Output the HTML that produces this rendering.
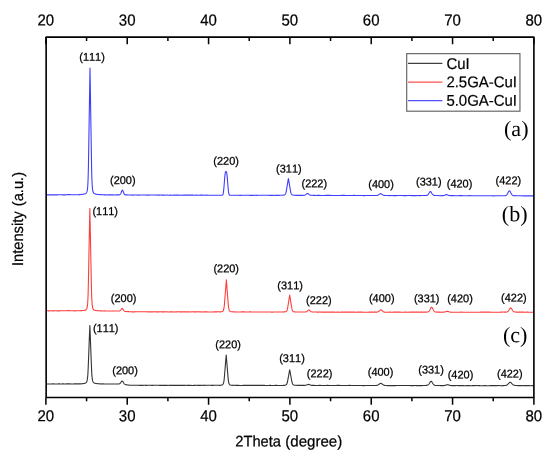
<!DOCTYPE html>
<html><head><meta charset="utf-8"><title>XRD</title>
<style>
html,body{margin:0;padding:0;background:#fff;}
body{width:550px;height:458px;overflow:hidden;}
svg{display:block;will-change:transform;}
text{font-family:"Liberation Sans",sans-serif;fill:#000;font-kerning:none;}
.tk{font-size:15.0px;text-anchor:middle;stroke:#000;stroke-width:0.22px;}
.tt{font-size:14.9px;text-anchor:middle;stroke:#000;stroke-width:0.22px;}
.pk{font-size:10.95px;text-anchor:middle;stroke:#000;stroke-width:0.25px;}
.lg{font-size:14.95px;stroke:#000;stroke-width:0.2px;}
.pn{font-family:"Liberation Serif",serif;font-size:22.1px;text-anchor:middle;}
</style></head><body>
<svg width="550" height="458" viewBox="0 0 550 458">
<rect x="0" y="0" width="550" height="458" fill="#ffffff"/>
<path d="M46.15 383.96 L46.40 383.96 L46.65 383.96 L46.90 383.96 L47.15 383.96 L47.40 383.96 L47.65 383.96 L47.90 383.96 L48.15 383.93 L48.40 383.93 L48.65 383.93 L48.90 383.93 L49.15 383.93 L49.40 383.93 L49.65 383.93 L49.90 383.93 L50.15 384.01 L50.40 384.01 L50.65 384.01 L50.90 384.01 L51.15 384.01 L51.40 384.01 L51.65 384.01 L51.90 384.01 L52.15 383.92 L52.40 383.92 L52.65 383.92 L52.90 383.92 L53.15 383.92 L53.40 383.92 L53.65 383.92 L53.90 383.92 L54.15 384.00 L54.40 384.00 L54.65 384.00 L54.90 384.00 L55.15 384.00 L55.40 384.00 L55.65 384.00 L55.90 384.00 L56.15 383.97 L56.40 383.97 L56.65 383.97 L56.90 383.97 L57.15 383.97 L57.40 383.97 L57.65 383.97 L57.90 383.97 L58.15 383.92 L58.40 383.92 L58.65 383.92 L58.90 383.92 L59.15 383.92 L59.40 383.92 L59.65 383.92 L59.90 383.92 L60.15 383.99 L60.40 383.99 L60.65 383.99 L60.90 383.99 L61.15 383.99 L61.40 383.99 L61.65 383.99 L61.90 383.99 L62.15 383.91 L62.40 383.91 L62.65 383.91 L62.90 383.91 L63.15 383.91 L63.40 383.91 L63.65 383.91 L63.90 383.91 L64.15 383.97 L64.40 383.97 L64.65 383.97 L64.90 383.97 L65.15 383.97 L65.40 383.97 L65.65 383.97 L65.90 383.96 L66.15 383.90 L66.40 383.90 L66.65 383.89 L66.90 383.88 L67.15 383.87 L67.40 383.86 L67.65 383.85 L67.90 383.84 L68.15 383.84 L68.40 383.83 L68.65 383.83 L68.70 383.83 L68.90 383.83 L69.15 383.83 L69.40 383.84 L69.65 383.85 L69.90 383.91 L70.15 383.92 L70.40 383.92 L70.65 383.93 L70.90 383.93 L71.15 383.94 L71.40 383.94 L71.65 383.94 L71.90 384.01 L72.15 384.01 L72.40 384.01 L72.65 384.00 L72.90 384.00 L73.15 384.00 L73.40 384.00 L73.65 384.00 L73.90 383.88 L74.15 383.88 L74.40 383.88 L74.65 383.87 L74.90 383.87 L75.15 383.87 L75.40 383.87 L75.65 383.86 L75.90 383.87 L76.15 383.87 L76.40 383.87 L76.65 383.86 L76.90 383.86 L77.15 383.85 L77.40 383.85 L77.65 383.84 L77.90 383.90 L78.15 383.89 L78.40 383.89 L78.65 383.88 L78.90 383.87 L79.15 383.87 L79.40 383.86 L79.65 383.85 L79.90 383.89 L80.15 383.88 L80.40 383.87 L80.65 383.86 L80.90 383.84 L81.15 383.83 L81.40 383.81 L81.65 383.80 L81.90 383.72 L82.15 383.70 L82.40 383.68 L82.65 383.66 L82.90 383.63 L83.15 383.61 L83.40 383.58 L83.65 383.54 L83.90 383.48 L84.15 383.43 L84.40 383.38 L84.65 383.33 L84.90 383.26 L85.15 383.18 L85.40 383.08 L85.65 382.95 L85.90 382.88 L86.15 382.66 L86.40 382.35 L86.65 381.92 L86.90 381.29 L87.15 380.38 L87.40 379.01 L87.65 376.96 L87.90 373.70 L88.15 368.67 L88.40 362.52 L88.65 356.23 L88.90 349.79 L89.15 343.20 L89.40 336.59 L89.65 330.22 L89.85 325.64 L89.90 326.78 L90.15 332.85 L90.40 339.35 L90.65 345.98 L90.90 352.52 L91.15 358.90 L91.40 365.13 L91.65 371.14 L91.90 375.15 L92.15 377.78 L92.40 379.52 L92.65 380.68 L92.90 381.47 L93.15 382.01 L93.40 382.38 L93.65 382.63 L93.90 382.83 L94.15 382.98 L94.40 383.09 L94.65 383.19 L94.90 383.26 L95.15 383.32 L95.40 383.38 L95.65 383.42 L95.90 383.46 L96.15 383.50 L96.40 383.53 L96.65 383.56 L96.90 383.59 L97.15 383.61 L97.40 383.64 L97.65 383.69 L97.90 383.71 L98.15 383.72 L98.40 383.74 L98.65 383.75 L98.90 383.77 L99.15 383.78 L99.40 383.79 L99.65 383.89 L99.90 383.90 L100.15 383.91 L100.40 383.92 L100.65 383.93 L100.90 383.93 L101.15 383.94 L101.40 383.95 L101.65 383.86 L101.90 383.86 L102.15 383.87 L102.40 383.87 L102.65 383.88 L102.90 383.88 L103.15 383.89 L103.40 383.89 L103.65 383.96 L103.90 383.97 L104.15 383.97 L104.40 383.98 L104.65 383.98 L104.90 383.98 L105.15 383.99 L105.40 383.99 L105.65 384.00 L105.90 384.01 L106.15 384.01 L106.40 384.01 L106.65 384.01 L106.90 384.02 L107.15 384.02 L107.40 384.02 L107.65 383.98 L107.90 383.98 L108.15 383.98 L108.40 383.99 L108.65 383.99 L108.90 383.99 L109.15 383.99 L109.40 383.99 L109.65 384.02 L109.90 384.02 L110.15 384.02 L110.40 384.03 L110.65 384.03 L110.90 384.03 L111.15 384.03 L111.40 384.03 L111.65 383.95 L111.90 383.95 L112.15 383.95 L112.40 383.95 L112.65 383.95 L112.90 383.96 L113.15 383.96 L113.40 383.96 L113.65 383.95 L113.90 383.95 L114.15 383.95 L114.40 383.95 L114.65 383.95 L114.90 383.95 L115.15 383.95 L115.40 383.95 L115.65 383.97 L115.90 383.97 L116.15 383.97 L116.40 383.96 L116.65 383.96 L116.90 383.95 L117.15 383.95 L117.40 383.94 L117.65 384.01 L117.90 384.00 L118.15 383.99 L118.40 384.00 L118.65 383.98 L118.90 383.96 L119.15 383.91 L119.40 383.83 L119.65 383.67 L119.90 383.50 L120.15 383.29 L120.40 383.02 L120.65 382.71 L120.90 382.37 L121.15 382.01 L121.40 381.67 L121.65 381.37 L121.90 381.17 L122.15 381.09 L122.20 381.10 L122.40 381.16 L122.65 381.36 L122.90 381.67 L123.15 382.05 L123.40 382.50 L123.65 382.90 L123.90 383.28 L124.15 383.61 L124.40 383.90 L124.65 384.13 L124.90 384.32 L125.15 384.46 L125.40 384.55 L125.65 384.64 L125.90 384.71 L126.15 384.76 L126.40 384.81 L126.65 384.85 L126.90 384.88 L127.15 384.92 L127.40 384.92 L127.65 384.96 L127.90 384.99 L128.15 385.02 L128.40 385.04 L128.65 385.07 L128.90 385.10 L129.15 385.13 L129.40 385.24 L129.65 385.26 L129.90 385.29 L130.15 385.30 L130.40 385.30 L130.65 385.31 L130.90 385.31 L131.15 385.31 L131.40 385.30 L131.65 385.30 L131.90 385.30 L132.15 385.30 L132.40 385.30 L132.65 385.30 L132.90 385.30 L133.15 385.31 L133.40 385.23 L133.65 385.23 L133.90 385.24 L134.15 385.24 L134.40 385.24 L134.65 385.24 L134.90 385.24 L135.15 385.24 L135.40 385.29 L135.65 385.29 L135.90 385.29 L136.15 385.30 L136.40 385.30 L136.65 385.30 L136.90 385.30 L137.15 385.30 L137.40 385.29 L137.65 385.29 L137.90 385.29 L138.15 385.29 L138.40 385.29 L138.65 385.29 L138.90 385.29 L139.15 385.29 L139.40 385.35 L139.65 385.35 L139.90 385.35 L140.15 385.35 L140.40 385.35 L140.65 385.35 L140.90 385.35 L141.15 385.35 L141.40 385.33 L141.65 385.33 L141.90 385.33 L142.15 385.33 L142.40 385.33 L142.65 385.33 L142.90 385.33 L143.15 385.33 L143.40 385.26 L143.65 385.26 L143.90 385.27 L144.15 385.27 L144.40 385.27 L144.65 385.27 L144.90 385.27 L145.15 385.27 L145.40 385.38 L145.65 385.38 L145.90 385.38 L146.15 385.38 L146.40 385.38 L146.65 385.38 L146.90 385.38 L147.15 385.38 L147.40 385.24 L147.65 385.24 L147.90 385.24 L148.15 385.24 L148.40 385.24 L148.65 385.24 L148.90 385.24 L149.15 385.25 L149.40 385.29 L149.65 385.29 L149.90 385.29 L150.15 385.29 L150.40 385.29 L150.65 385.30 L150.90 385.30 L151.15 385.30 L151.40 385.35 L151.65 385.35 L151.90 385.35 L152.15 385.35 L152.40 385.35 L152.65 385.35 L152.90 385.35 L153.15 385.35 L153.40 385.26 L153.65 385.26 L153.90 385.26 L154.15 385.26 L154.40 385.26 L154.65 385.26 L154.90 385.26 L155.15 385.26 L155.40 385.31 L155.65 385.31 L155.90 385.31 L156.15 385.31 L156.40 385.31 L156.65 385.31 L156.90 385.31 L157.15 385.31 L157.40 385.24 L157.65 385.24 L157.90 385.24 L158.15 385.24 L158.40 385.24 L158.65 385.24 L158.90 385.24 L159.15 385.24 L159.40 385.35 L159.65 385.35 L159.90 385.35 L160.15 385.35 L160.40 385.35 L160.65 385.35 L160.90 385.35 L161.15 385.35 L161.40 385.36 L161.65 385.36 L161.90 385.36 L162.15 385.36 L162.40 385.36 L162.65 385.36 L162.90 385.36 L163.15 385.36 L163.40 385.33 L163.65 385.33 L163.90 385.33 L164.15 385.33 L164.40 385.34 L164.65 385.34 L164.90 385.34 L165.15 385.34 L165.40 385.38 L165.65 385.38 L165.90 385.39 L166.15 385.39 L166.40 385.39 L166.65 385.39 L166.90 385.39 L167.15 385.39 L167.40 385.30 L167.65 385.30 L167.90 385.30 L168.15 385.30 L168.40 385.30 L168.65 385.30 L168.90 385.30 L169.15 385.30 L169.40 385.36 L169.65 385.36 L169.90 385.36 L170.15 385.36 L170.40 385.36 L170.65 385.36 L170.90 385.36 L171.15 385.36 L171.40 385.35 L171.65 385.35 L171.90 385.35 L172.15 385.35 L172.40 385.35 L172.65 385.35 L172.90 385.35 L173.15 385.35 L173.40 385.35 L173.65 385.35 L173.90 385.35 L174.15 385.35 L174.40 385.35 L174.65 385.35 L174.90 385.35 L175.15 385.35 L175.40 385.33 L175.65 385.33 L175.90 385.33 L176.15 385.33 L176.40 385.33 L176.65 385.33 L176.90 385.33 L177.15 385.33 L177.40 385.39 L177.65 385.39 L177.90 385.39 L178.15 385.39 L178.40 385.39 L178.65 385.39 L178.90 385.39 L179.15 385.39 L179.40 385.41 L179.65 385.41 L179.90 385.41 L180.15 385.41 L180.40 385.41 L180.65 385.41 L180.90 385.41 L181.15 385.41 L181.40 385.34 L181.65 385.34 L181.90 385.34 L182.15 385.34 L182.40 385.34 L182.65 385.34 L182.90 385.34 L183.15 385.34 L183.40 385.37 L183.65 385.37 L183.90 385.37 L184.15 385.37 L184.40 385.37 L184.65 385.37 L184.90 385.37 L185.15 385.37 L185.40 385.27 L185.65 385.27 L185.90 385.27 L186.15 385.27 L186.40 385.27 L186.65 385.27 L186.90 385.27 L187.15 385.27 L187.40 385.38 L187.65 385.38 L187.90 385.38 L188.15 385.38 L188.40 385.38 L188.65 385.38 L188.90 385.38 L189.15 385.38 L189.40 385.37 L189.65 385.37 L189.90 385.37 L190.15 385.37 L190.40 385.37 L190.65 385.37 L190.90 385.37 L191.15 385.37 L191.40 385.43 L191.65 385.43 L191.90 385.43 L192.15 385.43 L192.40 385.43 L192.65 385.43 L192.90 385.43 L193.15 385.43 L193.40 385.40 L193.65 385.40 L193.90 385.40 L194.15 385.40 L194.40 385.40 L194.65 385.40 L194.90 385.40 L195.15 385.40 L195.40 385.32 L195.65 385.32 L195.90 385.32 L196.15 385.32 L196.40 385.32 L196.65 385.32 L196.90 385.32 L197.15 385.32 L197.40 385.33 L197.65 385.33 L197.90 385.33 L198.15 385.33 L198.40 385.33 L198.65 385.33 L198.90 385.33 L199.15 385.33 L199.40 385.38 L199.65 385.38 L199.90 385.38 L200.15 385.38 L200.40 385.38 L200.65 385.38 L200.90 385.38 L201.15 385.38 L201.40 385.28 L201.65 385.28 L201.90 385.28 L202.15 385.28 L202.40 385.28 L202.65 385.28 L202.90 385.28 L203.15 385.28 L203.40 385.35 L203.65 385.35 L203.90 385.35 L204.15 385.35 L204.40 385.35 L204.65 385.35 L204.90 385.35 L205.15 385.35 L205.40 385.30 L205.65 385.30 L205.90 385.30 L206.15 385.30 L206.40 385.30 L206.65 385.30 L206.90 385.30 L207.15 385.30 L207.40 385.29 L207.65 385.29 L207.90 385.29 L208.15 385.29 L208.40 385.29 L208.65 385.29 L208.90 385.29 L209.15 385.29 L209.40 385.28 L209.65 385.28 L209.90 385.28 L210.15 385.28 L210.40 385.28 L210.65 385.28 L210.90 385.28 L211.15 385.28 L211.40 385.39 L211.65 385.39 L211.90 385.39 L212.15 385.39 L212.40 385.39 L212.65 385.39 L212.90 385.39 L213.15 385.39 L213.40 385.29 L213.65 385.29 L213.90 385.29 L214.15 385.29 L214.40 385.29 L214.65 385.28 L214.90 385.28 L215.15 385.28 L215.40 385.30 L215.65 385.30 L215.90 385.30 L216.15 385.30 L216.40 385.29 L216.65 385.29 L216.90 385.29 L217.15 385.29 L217.40 385.31 L217.65 385.31 L217.90 385.30 L218.15 385.30 L218.40 385.30 L218.65 385.29 L218.90 385.29 L219.15 385.28 L219.40 385.35 L219.65 385.35 L219.90 385.34 L220.15 385.33 L220.40 385.32 L220.65 385.30 L220.90 385.28 L221.15 385.25 L221.40 385.09 L221.65 385.05 L221.90 384.98 L222.15 384.89 L222.40 384.76 L222.65 384.58 L222.90 384.31 L223.15 383.92 L223.40 383.41 L223.65 382.58 L223.90 381.36 L224.15 379.55 L224.40 376.75 L224.65 373.79 L224.90 370.79 L225.15 367.73 L225.40 364.66 L225.65 361.55 L225.90 358.49 L226.15 355.57 L226.20 355.01 L226.40 357.30 L226.65 360.32 L226.90 363.41 L227.15 366.57 L227.40 369.64 L227.65 372.67 L227.90 375.65 L228.15 378.59 L228.40 380.79 L228.65 382.22 L228.90 383.19 L229.15 383.84 L229.40 384.29 L229.65 384.61 L229.90 384.82 L230.15 384.97 L230.40 385.07 L230.65 385.15 L230.90 385.20 L231.15 385.25 L231.40 385.28 L231.65 385.30 L231.90 385.32 L232.15 385.33 L232.40 385.34 L232.65 385.35 L232.90 385.36 L233.15 385.27 L233.40 385.28 L233.65 385.29 L233.90 385.29 L234.15 385.29 L234.40 385.30 L234.65 385.30 L234.90 385.31 L235.15 385.33 L235.40 385.33 L235.65 385.34 L235.90 385.34 L236.15 385.34 L236.40 385.34 L236.65 385.34 L236.90 385.35 L237.15 385.34 L237.40 385.34 L237.65 385.34 L237.90 385.34 L238.15 385.34 L238.40 385.35 L238.65 385.35 L238.90 385.35 L239.15 385.43 L239.40 385.43 L239.65 385.43 L239.90 385.44 L240.15 385.44 L240.40 385.44 L240.65 385.44 L240.90 385.44 L241.15 385.45 L241.40 385.45 L241.65 385.45 L241.90 385.45 L242.15 385.45 L242.40 385.46 L242.65 385.46 L242.90 385.46 L243.15 385.33 L243.40 385.33 L243.65 385.33 L243.90 385.33 L244.15 385.33 L244.40 385.33 L244.65 385.33 L244.90 385.33 L245.15 385.34 L245.40 385.34 L245.65 385.34 L245.90 385.34 L246.15 385.34 L246.40 385.34 L246.65 385.34 L246.90 385.34 L247.15 385.35 L247.40 385.35 L247.65 385.35 L247.90 385.35 L248.15 385.35 L248.40 385.35 L248.65 385.35 L248.90 385.35 L249.15 385.35 L249.40 385.35 L249.65 385.35 L249.90 385.35 L250.15 385.35 L250.40 385.35 L250.65 385.35 L250.90 385.35 L251.15 385.40 L251.40 385.40 L251.65 385.40 L251.90 385.40 L252.15 385.40 L252.40 385.40 L252.65 385.40 L252.90 385.40 L253.15 385.41 L253.40 385.41 L253.65 385.41 L253.90 385.42 L254.15 385.42 L254.40 385.42 L254.65 385.42 L254.90 385.42 L255.15 385.36 L255.40 385.36 L255.65 385.36 L255.90 385.37 L256.15 385.37 L256.40 385.37 L256.65 385.37 L256.90 385.37 L257.15 385.32 L257.40 385.33 L257.65 385.33 L257.90 385.33 L258.15 385.33 L258.40 385.33 L258.65 385.33 L258.90 385.33 L259.15 385.39 L259.40 385.39 L259.65 385.39 L259.90 385.39 L260.15 385.39 L260.40 385.39 L260.65 385.39 L260.90 385.39 L261.15 385.39 L261.40 385.39 L261.65 385.39 L261.90 385.39 L262.15 385.39 L262.40 385.39 L262.65 385.39 L262.90 385.39 L263.15 385.42 L263.40 385.42 L263.65 385.42 L263.90 385.42 L264.15 385.42 L264.40 385.42 L264.65 385.42 L264.90 385.42 L265.15 385.48 L265.40 385.48 L265.65 385.48 L265.90 385.48 L266.15 385.48 L266.40 385.48 L266.65 385.48 L266.90 385.48 L267.15 385.44 L267.40 385.44 L267.65 385.44 L267.90 385.44 L268.15 385.44 L268.40 385.44 L268.65 385.44 L268.90 385.44 L269.15 385.42 L269.40 385.42 L269.65 385.42 L269.90 385.42 L270.15 385.42 L270.40 385.42 L270.65 385.42 L270.90 385.42 L271.15 385.43 L271.40 385.43 L271.65 385.43 L271.90 385.43 L272.15 385.43 L272.40 385.43 L272.65 385.43 L272.90 385.43 L273.15 385.44 L273.40 385.44 L273.65 385.44 L273.90 385.44 L274.15 385.44 L274.40 385.44 L274.65 385.44 L274.90 385.44 L275.15 385.34 L275.40 385.34 L275.65 385.34 L275.90 385.34 L276.15 385.34 L276.40 385.34 L276.65 385.34 L276.90 385.34 L277.15 385.47 L277.40 385.47 L277.65 385.47 L277.90 385.47 L278.15 385.47 L278.40 385.47 L278.65 385.47 L278.90 385.47 L279.15 385.45 L279.40 385.45 L279.65 385.45 L279.90 385.45 L280.15 385.45 L280.40 385.44 L280.65 385.44 L280.90 385.44 L281.15 385.45 L281.40 385.45 L281.65 385.45 L281.90 385.45 L282.15 385.44 L282.40 385.44 L282.65 385.44 L282.90 385.43 L283.15 385.41 L283.40 385.41 L283.65 385.40 L283.90 385.38 L284.15 385.37 L284.40 385.35 L284.65 385.32 L284.90 385.28 L285.15 385.17 L285.40 385.10 L285.65 385.01 L285.90 384.89 L286.15 384.72 L286.40 384.48 L286.65 384.14 L286.90 383.68 L287.15 383.03 L287.40 382.11 L287.65 380.81 L287.90 379.51 L288.15 378.18 L288.40 376.84 L288.65 375.48 L288.90 374.11 L289.15 372.70 L289.40 371.36 L289.65 370.08 L289.70 369.83 L289.90 370.84 L290.15 372.16 L290.40 373.52 L290.65 374.89 L290.90 376.34 L291.15 377.69 L291.40 379.02 L291.65 380.33 L291.90 381.63 L292.15 382.75 L292.40 383.49 L292.65 384.02 L292.90 384.31 L293.15 384.58 L293.40 384.78 L293.65 384.92 L293.90 385.02 L294.15 385.10 L294.40 385.16 L294.65 385.20 L294.90 385.23 L295.15 385.25 L295.40 385.27 L295.65 385.28 L295.90 385.29 L296.15 385.30 L296.40 385.31 L296.65 385.32 L296.90 385.34 L297.15 385.35 L297.40 385.35 L297.65 385.35 L297.90 385.36 L298.15 385.36 L298.40 385.36 L298.65 385.36 L298.90 385.36 L299.15 385.36 L299.40 385.36 L299.65 385.36 L299.90 385.36 L300.15 385.36 L300.40 385.37 L300.65 385.37 L300.90 385.40 L301.15 385.40 L301.40 385.40 L301.65 385.40 L301.90 385.40 L302.15 385.40 L302.40 385.40 L302.65 385.40 L302.90 385.35 L303.15 385.35 L303.40 385.35 L303.65 385.35 L303.90 385.35 L304.15 385.34 L304.40 385.34 L304.65 385.34 L304.90 385.32 L305.15 385.30 L305.40 385.28 L305.65 385.25 L305.90 385.21 L306.15 385.16 L306.40 385.09 L306.65 385.01 L306.90 384.93 L307.15 384.82 L307.40 384.70 L307.65 384.59 L307.90 384.50 L308.15 384.42 L308.40 384.39 L308.50 384.39 L308.65 384.38 L308.90 384.43 L309.15 384.51 L309.40 384.61 L309.65 384.72 L309.90 384.84 L310.15 384.95 L310.40 385.05 L310.65 385.17 L310.90 385.24 L311.15 385.29 L311.40 385.33 L311.65 385.36 L311.90 385.38 L312.15 385.39 L312.40 385.40 L312.65 385.35 L312.90 385.36 L313.15 385.36 L313.40 385.36 L313.65 385.37 L313.90 385.37 L314.15 385.37 L314.40 385.37 L314.65 385.51 L314.90 385.51 L315.15 385.51 L315.40 385.51 L315.65 385.51 L315.90 385.51 L316.15 385.51 L316.40 385.51 L316.65 385.47 L316.90 385.47 L317.15 385.48 L317.40 385.48 L317.65 385.48 L317.90 385.48 L318.15 385.48 L318.40 385.48 L318.65 385.40 L318.90 385.41 L319.15 385.41 L319.40 385.41 L319.65 385.41 L319.90 385.41 L320.15 385.41 L320.40 385.41 L320.65 385.42 L320.90 385.43 L321.15 385.43 L321.40 385.43 L321.65 385.43 L321.90 385.43 L322.15 385.43 L322.40 385.43 L322.65 385.44 L322.90 385.44 L323.15 385.44 L323.40 385.44 L323.65 385.44 L323.90 385.45 L324.15 385.45 L324.40 385.45 L324.65 385.45 L324.90 385.45 L325.15 385.45 L325.40 385.45 L325.65 385.45 L325.90 385.45 L326.15 385.45 L326.40 385.45 L326.65 385.41 L326.90 385.41 L327.15 385.41 L327.40 385.41 L327.65 385.41 L327.90 385.41 L328.15 385.41 L328.40 385.42 L328.65 385.53 L328.90 385.53 L329.15 385.53 L329.40 385.53 L329.65 385.53 L329.90 385.53 L330.15 385.53 L330.40 385.53 L330.65 385.56 L330.90 385.56 L331.15 385.56 L331.40 385.56 L331.65 385.56 L331.90 385.56 L332.15 385.56 L332.40 385.56 L332.65 385.48 L332.90 385.48 L333.15 385.48 L333.40 385.48 L333.65 385.48 L333.90 385.48 L334.15 385.48 L334.40 385.48 L334.65 385.48 L334.90 385.48 L335.15 385.48 L335.40 385.48 L335.65 385.48 L335.90 385.48 L336.15 385.48 L336.40 385.48 L336.65 385.42 L336.90 385.42 L337.15 385.42 L337.40 385.42 L337.65 385.42 L337.90 385.42 L338.15 385.42 L338.40 385.42 L338.65 385.42 L338.90 385.42 L339.15 385.42 L339.40 385.42 L339.65 385.42 L339.90 385.43 L340.15 385.43 L340.40 385.43 L340.65 385.46 L340.90 385.46 L341.15 385.47 L341.40 385.47 L341.65 385.47 L341.90 385.47 L342.15 385.47 L342.40 385.47 L342.65 385.45 L342.90 385.45 L343.15 385.45 L343.40 385.46 L343.65 385.46 L343.90 385.46 L344.15 385.46 L344.40 385.46 L344.65 385.55 L344.90 385.55 L345.15 385.55 L345.40 385.55 L345.65 385.55 L345.90 385.55 L346.15 385.55 L346.40 385.55 L346.65 385.44 L346.90 385.44 L347.15 385.44 L347.40 385.44 L347.65 385.44 L347.90 385.44 L348.15 385.44 L348.40 385.44 L348.65 385.42 L348.90 385.42 L349.15 385.42 L349.40 385.42 L349.65 385.42 L349.90 385.42 L350.15 385.42 L350.40 385.42 L350.65 385.57 L350.90 385.57 L351.15 385.57 L351.40 385.57 L351.65 385.57 L351.90 385.57 L352.15 385.57 L352.40 385.57 L352.65 385.51 L352.90 385.51 L353.15 385.51 L353.40 385.51 L353.65 385.51 L353.90 385.51 L354.15 385.51 L354.40 385.51 L354.65 385.45 L354.90 385.45 L355.15 385.45 L355.40 385.45 L355.65 385.45 L355.90 385.45 L356.15 385.45 L356.40 385.45 L356.65 385.51 L356.90 385.51 L357.15 385.51 L357.40 385.51 L357.65 385.51 L357.90 385.51 L358.15 385.51 L358.40 385.51 L358.65 385.43 L358.90 385.43 L359.15 385.43 L359.40 385.43 L359.65 385.43 L359.90 385.43 L360.15 385.43 L360.40 385.43 L360.65 385.51 L360.90 385.51 L361.15 385.51 L361.40 385.51 L361.65 385.51 L361.90 385.51 L362.15 385.51 L362.40 385.51 L362.65 385.59 L362.90 385.59 L363.15 385.59 L363.40 385.59 L363.65 385.59 L363.90 385.59 L364.15 385.59 L364.40 385.59 L364.65 385.57 L364.90 385.57 L365.15 385.57 L365.40 385.57 L365.65 385.57 L365.90 385.57 L366.15 385.57 L366.40 385.57 L366.65 385.54 L366.90 385.54 L367.15 385.54 L367.40 385.54 L367.65 385.54 L367.90 385.54 L368.15 385.54 L368.40 385.54 L368.65 385.47 L368.90 385.47 L369.15 385.47 L369.40 385.47 L369.65 385.47 L369.90 385.47 L370.15 385.47 L370.40 385.47 L370.65 385.49 L370.90 385.49 L371.15 385.49 L371.40 385.49 L371.65 385.48 L371.90 385.48 L372.15 385.48 L372.40 385.48 L372.65 385.45 L372.90 385.45 L373.15 385.45 L373.40 385.45 L373.65 385.44 L373.90 385.44 L374.15 385.44 L374.40 385.44 L374.65 385.53 L374.90 385.53 L375.15 385.52 L375.40 385.51 L375.65 385.50 L375.90 385.49 L376.15 385.47 L376.40 385.45 L376.65 385.38 L376.90 385.34 L377.15 385.28 L377.40 385.21 L377.65 385.12 L377.90 385.01 L378.15 384.88 L378.40 384.73 L378.65 384.59 L378.90 384.41 L379.15 384.21 L379.40 384.01 L379.65 383.83 L379.90 383.66 L380.15 383.52 L380.40 383.43 L380.65 383.32 L380.70 383.32 L380.90 383.34 L381.15 383.41 L381.40 383.53 L381.65 383.69 L381.90 383.87 L382.15 384.06 L382.40 384.24 L382.65 384.44 L382.90 384.61 L383.15 384.78 L383.40 384.92 L383.65 385.04 L383.90 385.13 L384.15 385.21 L384.40 385.37 L384.65 385.42 L384.90 385.45 L385.15 385.48 L385.40 385.50 L385.65 385.52 L385.90 385.53 L386.15 385.54 L386.40 385.57 L386.65 385.57 L386.90 385.58 L387.15 385.58 L387.40 385.59 L387.65 385.59 L387.90 385.59 L388.15 385.59 L388.40 385.57 L388.65 385.57 L388.90 385.58 L389.15 385.58 L389.40 385.58 L389.65 385.58 L389.90 385.58 L390.15 385.58 L390.40 385.58 L390.65 385.58 L390.90 385.58 L391.15 385.58 L391.40 385.58 L391.65 385.58 L391.90 385.58 L392.15 385.58 L392.40 385.59 L392.65 385.59 L392.90 385.59 L393.15 385.59 L393.40 385.59 L393.65 385.59 L393.90 385.59 L394.15 385.59 L394.40 385.58 L394.65 385.58 L394.90 385.58 L395.15 385.58 L395.40 385.58 L395.65 385.58 L395.90 385.58 L396.15 385.58 L396.40 385.50 L396.65 385.50 L396.90 385.50 L397.15 385.50 L397.40 385.50 L397.65 385.50 L397.90 385.50 L398.15 385.50 L398.40 385.55 L398.65 385.55 L398.90 385.55 L399.15 385.55 L399.40 385.55 L399.65 385.55 L399.90 385.55 L400.15 385.55 L400.40 385.53 L400.65 385.53 L400.90 385.53 L401.15 385.53 L401.40 385.53 L401.65 385.53 L401.90 385.53 L402.15 385.53 L402.40 385.48 L402.65 385.48 L402.90 385.48 L403.15 385.48 L403.40 385.48 L403.65 385.48 L403.90 385.48 L404.15 385.48 L404.40 385.48 L404.65 385.48 L404.90 385.48 L405.15 385.48 L405.40 385.48 L405.65 385.48 L405.90 385.48 L406.15 385.48 L406.40 385.52 L406.65 385.52 L406.90 385.52 L407.15 385.52 L407.40 385.52 L407.65 385.52 L407.90 385.52 L408.15 385.52 L408.40 385.52 L408.65 385.52 L408.90 385.52 L409.15 385.52 L409.40 385.52 L409.65 385.52 L409.90 385.52 L410.15 385.52 L410.40 385.59 L410.65 385.59 L410.90 385.59 L411.15 385.59 L411.40 385.59 L411.65 385.59 L411.90 385.59 L412.15 385.59 L412.40 385.63 L412.65 385.63 L412.90 385.63 L413.15 385.63 L413.40 385.63 L413.65 385.63 L413.90 385.63 L414.15 385.63 L414.40 385.55 L414.65 385.55 L414.90 385.55 L415.15 385.55 L415.40 385.55 L415.65 385.55 L415.90 385.55 L416.15 385.55 L416.40 385.63 L416.65 385.63 L416.90 385.63 L417.15 385.63 L417.40 385.63 L417.65 385.63 L417.90 385.62 L418.15 385.62 L418.40 385.63 L418.65 385.63 L418.90 385.63 L419.15 385.63 L419.40 385.63 L419.65 385.63 L419.90 385.63 L420.15 385.63 L420.40 385.62 L420.65 385.62 L420.90 385.62 L421.15 385.62 L421.40 385.62 L421.65 385.61 L421.90 385.61 L422.15 385.61 L422.40 385.52 L422.65 385.51 L422.90 385.51 L423.15 385.51 L423.40 385.51 L423.65 385.50 L423.90 385.50 L424.15 385.49 L424.40 385.47 L424.65 385.46 L424.90 385.46 L425.15 385.45 L425.40 385.44 L425.65 385.43 L425.90 385.42 L426.15 385.41 L426.40 385.39 L426.65 385.36 L426.90 385.32 L427.15 385.27 L427.40 385.20 L427.65 385.11 L427.90 384.98 L428.15 384.82 L428.40 384.61 L428.65 384.36 L428.90 384.06 L429.15 383.72 L429.40 383.34 L429.65 382.93 L429.90 382.52 L430.15 382.13 L430.40 381.78 L430.65 381.51 L430.90 381.34 L431.10 381.30 L431.15 381.30 L431.40 381.39 L431.65 381.61 L431.90 381.91 L432.15 382.35 L432.40 382.76 L432.65 383.17 L432.90 383.57 L433.15 383.93 L433.40 384.26 L433.65 384.54 L433.90 384.77 L434.15 385.00 L434.40 385.15 L434.65 385.26 L434.90 385.35 L435.15 385.41 L435.40 385.45 L435.65 385.49 L435.90 385.51 L436.15 385.52 L436.40 385.53 L436.65 385.55 L436.90 385.55 L437.15 385.56 L437.40 385.57 L437.65 385.57 L437.90 385.58 L438.15 385.53 L438.40 385.53 L438.65 385.53 L438.90 385.54 L439.15 385.54 L439.40 385.54 L439.65 385.54 L439.90 385.55 L440.15 385.58 L440.40 385.58 L440.65 385.58 L440.90 385.58 L441.15 385.58 L441.40 385.58 L441.65 385.58 L441.90 385.58 L442.15 385.61 L442.40 385.61 L442.65 385.61 L442.90 385.60 L443.15 385.60 L443.40 385.60 L443.65 385.59 L443.90 385.58 L444.15 385.45 L444.40 385.43 L444.65 385.40 L444.90 385.36 L445.15 385.31 L445.40 385.25 L445.65 385.17 L445.90 385.08 L446.15 385.08 L446.40 384.98 L446.65 384.88 L446.90 384.79 L447.15 384.72 L447.40 384.67 L447.60 384.66 L447.65 384.66 L447.90 384.73 L448.15 384.78 L448.40 384.86 L448.65 384.96 L448.90 385.06 L449.15 385.16 L449.40 385.26 L449.65 385.35 L449.90 385.40 L450.15 385.46 L450.40 385.51 L450.65 385.54 L450.90 385.57 L451.15 385.59 L451.40 385.60 L451.65 385.61 L451.90 385.61 L452.15 385.62 L452.40 385.62 L452.65 385.63 L452.90 385.63 L453.15 385.63 L453.40 385.63 L453.65 385.63 L453.90 385.59 L454.15 385.59 L454.40 385.59 L454.65 385.59 L454.90 385.60 L455.15 385.60 L455.40 385.60 L455.65 385.60 L455.90 385.55 L456.15 385.55 L456.40 385.55 L456.65 385.55 L456.90 385.55 L457.15 385.55 L457.40 385.56 L457.65 385.56 L457.90 385.65 L458.15 385.65 L458.40 385.65 L458.65 385.66 L458.90 385.66 L459.15 385.66 L459.40 385.66 L459.65 385.66 L459.90 385.58 L460.15 385.59 L460.40 385.59 L460.65 385.59 L460.90 385.59 L461.15 385.59 L461.40 385.59 L461.65 385.59 L461.90 385.66 L462.15 385.66 L462.40 385.66 L462.65 385.66 L462.90 385.66 L463.15 385.66 L463.40 385.67 L463.65 385.67 L463.90 385.69 L464.15 385.69 L464.40 385.69 L464.65 385.69 L464.90 385.69 L465.15 385.70 L465.40 385.70 L465.65 385.70 L465.90 385.60 L466.15 385.60 L466.40 385.60 L466.65 385.60 L466.90 385.61 L467.15 385.61 L467.40 385.61 L467.65 385.61 L467.90 385.61 L468.15 385.61 L468.40 385.61 L468.65 385.61 L468.90 385.61 L469.15 385.61 L469.40 385.61 L469.65 385.61 L469.90 385.70 L470.15 385.70 L470.40 385.70 L470.65 385.70 L470.90 385.70 L471.15 385.70 L471.40 385.70 L471.65 385.70 L471.90 385.66 L472.15 385.66 L472.40 385.66 L472.65 385.66 L472.90 385.66 L473.15 385.67 L473.40 385.67 L473.65 385.67 L473.90 385.58 L474.15 385.58 L474.40 385.58 L474.65 385.58 L474.90 385.58 L475.15 385.58 L475.40 385.58 L475.65 385.58 L475.90 385.57 L476.15 385.57 L476.40 385.57 L476.65 385.57 L476.90 385.57 L477.15 385.57 L477.40 385.57 L477.65 385.57 L477.90 385.58 L478.15 385.58 L478.40 385.58 L478.65 385.58 L478.90 385.58 L479.15 385.58 L479.40 385.58 L479.65 385.58 L479.90 385.70 L480.15 385.70 L480.40 385.70 L480.65 385.70 L480.90 385.70 L481.15 385.70 L481.40 385.70 L481.65 385.70 L481.90 385.69 L482.15 385.69 L482.40 385.69 L482.65 385.69 L482.90 385.69 L483.15 385.69 L483.40 385.69 L483.65 385.69 L483.90 385.58 L484.15 385.58 L484.40 385.58 L484.65 385.58 L484.90 385.58 L485.15 385.58 L485.40 385.58 L485.65 385.58 L485.90 385.69 L486.15 385.69 L486.40 385.69 L486.65 385.69 L486.90 385.69 L487.15 385.69 L487.40 385.69 L487.65 385.69 L487.90 385.72 L488.15 385.72 L488.40 385.72 L488.65 385.72 L488.90 385.72 L489.15 385.72 L489.40 385.72 L489.65 385.72 L489.90 385.67 L490.15 385.67 L490.40 385.67 L490.65 385.67 L490.90 385.67 L491.15 385.67 L491.40 385.67 L491.65 385.67 L491.90 385.62 L492.15 385.62 L492.40 385.62 L492.65 385.62 L492.90 385.62 L493.15 385.62 L493.40 385.62 L493.65 385.62 L493.90 385.65 L494.15 385.65 L494.40 385.65 L494.65 385.65 L494.90 385.65 L495.15 385.65 L495.40 385.65 L495.65 385.65 L495.90 385.58 L496.15 385.58 L496.40 385.58 L496.65 385.58 L496.90 385.58 L497.15 385.58 L497.40 385.58 L497.65 385.58 L497.90 385.56 L498.15 385.56 L498.40 385.56 L498.65 385.56 L498.90 385.55 L499.15 385.55 L499.40 385.55 L499.65 385.55 L499.90 385.70 L500.15 385.70 L500.40 385.70 L500.65 385.70 L500.90 385.70 L501.15 385.70 L501.40 385.69 L501.65 385.69 L501.90 385.64 L502.15 385.63 L502.40 385.63 L502.65 385.63 L502.90 385.62 L503.15 385.62 L503.40 385.61 L503.65 385.61 L503.90 385.58 L504.15 385.57 L504.40 385.56 L504.65 385.54 L504.90 385.52 L505.15 385.50 L505.40 385.47 L505.65 385.42 L505.90 385.43 L506.15 385.36 L506.40 385.27 L506.65 385.16 L506.90 385.03 L507.15 384.87 L507.40 384.68 L507.65 384.47 L507.90 384.15 L508.15 383.90 L508.40 383.62 L508.65 383.35 L508.90 383.07 L509.15 382.82 L509.40 382.59 L509.65 382.41 L509.90 382.36 L510.15 382.31 L510.20 382.31 L510.40 382.33 L510.65 382.43 L510.90 382.59 L511.15 382.79 L511.40 383.04 L511.65 383.30 L511.90 383.58 L512.15 383.86 L512.40 384.12 L512.65 384.37 L512.90 384.59 L513.15 384.79 L513.40 384.96 L513.65 385.00 L513.90 385.12 L514.15 385.22 L514.40 385.30 L514.65 385.36 L514.90 385.41 L515.15 385.45 L515.40 385.48 L515.65 385.50 L515.90 385.52 L516.15 385.54 L516.40 385.55 L516.65 385.56 L516.90 385.56 L517.15 385.57 L517.40 385.57 L517.65 385.59 L517.90 385.59 L518.15 385.59 L518.40 385.60 L518.65 385.60 L518.90 385.60 L519.15 385.61 L519.40 385.61 L519.65 385.60 L519.90 385.60 L520.15 385.61 L520.40 385.61 L520.65 385.61 L520.90 385.61 L521.15 385.61 L521.40 385.62 L521.65 385.67 L521.90 385.67 L522.15 385.67 L522.40 385.68 L522.65 385.68 L522.90 385.68 L523.15 385.68 L523.40 385.68 L523.65 385.63 L523.90 385.63 L524.15 385.63 L524.40 385.63 L524.65 385.63 L524.90 385.63 L525.15 385.63 L525.40 385.64 L525.65 385.66 L525.90 385.66 L526.15 385.66 L526.40 385.66 L526.65 385.66 L526.90 385.67 L527.15 385.67 L527.40 385.67 L527.65 385.62 L527.90 385.62 L528.15 385.62 L528.40 385.62 L528.65 385.62 L528.90 385.62 L529.15 385.62 L529.40 385.63 L529.65 385.75 L529.90 385.75 L530.15 385.75 L530.40 385.75 L530.65 385.75 L530.90 385.75 L531.15 385.75 L531.40 385.75 L531.65 385.67 L531.90 385.67 L532.15 385.67 L532.40 385.67 L532.65 385.67 L532.90 385.67 L533.15 385.67 L533.40 385.67 L533.65 385.69 L533.90 385.69" fill="none" stroke="#333333" stroke-width="1.1" stroke-linejoin="round"/>
<path d="M46.15 310.80 L46.40 310.80 L46.65 310.80 L46.90 310.80 L47.15 310.80 L47.40 310.80 L47.65 310.80 L47.90 310.81 L48.15 310.86 L48.40 310.86 L48.65 310.86 L48.90 310.86 L49.15 310.86 L49.40 310.86 L49.65 310.86 L49.90 310.86 L50.15 310.79 L50.40 310.79 L50.65 310.79 L50.90 310.79 L51.15 310.79 L51.40 310.79 L51.65 310.79 L51.90 310.79 L52.15 310.87 L52.40 310.87 L52.65 310.87 L52.90 310.88 L53.15 310.88 L53.40 310.88 L53.65 310.88 L53.90 310.88 L54.15 310.81 L54.40 310.81 L54.65 310.81 L54.90 310.82 L55.15 310.82 L55.40 310.82 L55.65 310.82 L55.90 310.82 L56.15 310.82 L56.40 310.82 L56.65 310.82 L56.90 310.83 L57.15 310.83 L57.40 310.83 L57.65 310.83 L57.90 310.83 L58.15 310.83 L58.40 310.83 L58.65 310.83 L58.90 310.83 L59.15 310.83 L59.40 310.83 L59.65 310.83 L59.90 310.83 L60.15 310.75 L60.40 310.75 L60.65 310.75 L60.90 310.75 L61.15 310.75 L61.40 310.75 L61.65 310.75 L61.90 310.75 L62.15 310.82 L62.40 310.82 L62.65 310.82 L62.90 310.82 L63.15 310.82 L63.40 310.82 L63.65 310.82 L63.90 310.82 L64.15 310.78 L64.40 310.78 L64.65 310.78 L64.90 310.78 L65.15 310.78 L65.40 310.78 L65.65 310.78 L65.90 310.77 L66.15 310.74 L66.40 310.73 L66.65 310.71 L66.90 310.70 L67.15 310.67 L67.40 310.64 L67.65 310.61 L67.90 310.58 L68.15 310.67 L68.40 310.65 L68.65 310.64 L68.70 310.64 L68.90 310.64 L69.15 310.66 L69.40 310.69 L69.65 310.72 L69.90 310.65 L70.15 310.68 L70.40 310.71 L70.65 310.73 L70.90 310.74 L71.15 310.76 L71.40 310.76 L71.65 310.77 L71.90 310.82 L72.15 310.82 L72.40 310.82 L72.65 310.82 L72.90 310.82 L73.15 310.81 L73.40 310.81 L73.65 310.81 L73.90 310.85 L74.15 310.85 L74.40 310.85 L74.65 310.84 L74.90 310.84 L75.15 310.84 L75.40 310.84 L75.65 310.83 L75.90 310.80 L76.15 310.80 L76.40 310.80 L76.65 310.79 L76.90 310.79 L77.15 310.79 L77.40 310.78 L77.65 310.78 L77.90 310.73 L78.15 310.73 L78.40 310.72 L78.65 310.72 L78.90 310.71 L79.15 310.70 L79.40 310.69 L79.65 310.68 L79.90 310.71 L80.15 310.70 L80.40 310.69 L80.65 310.67 L80.90 310.66 L81.15 310.65 L81.40 310.64 L81.65 310.62 L81.90 310.61 L82.15 310.59 L82.40 310.57 L82.65 310.55 L82.90 310.53 L83.15 310.50 L83.40 310.47 L83.65 310.44 L83.90 310.44 L84.15 310.41 L84.40 310.36 L84.65 310.31 L84.90 310.26 L85.15 310.19 L85.40 310.11 L85.65 310.00 L85.90 309.75 L86.15 309.55 L86.40 309.27 L86.65 308.86 L86.90 308.23 L87.15 307.25 L87.40 305.70 L87.65 303.23 L87.90 299.31 L88.15 292.81 L88.40 281.74 L88.65 269.24 L88.90 256.60 L89.15 243.82 L89.40 230.97 L89.65 218.28 L89.85 208.43 L89.90 210.84 L90.15 223.27 L90.40 236.06 L90.65 248.90 L90.90 261.63 L91.15 274.22 L91.40 286.67 L91.65 295.76 L91.90 301.11 L92.15 304.41 L92.40 306.46 L92.65 307.75 L92.90 308.57 L93.15 309.10 L93.40 309.45 L93.65 309.78 L93.90 309.95 L94.15 310.08 L94.40 310.18 L94.65 310.26 L94.90 310.32 L95.15 310.38 L95.40 310.43 L95.65 310.43 L95.90 310.46 L96.15 310.50 L96.40 310.53 L96.65 310.56 L96.90 310.59 L97.15 310.61 L97.40 310.63 L97.65 310.66 L97.90 310.68 L98.15 310.70 L98.40 310.72 L98.65 310.73 L98.90 310.75 L99.15 310.76 L99.40 310.78 L99.65 310.82 L99.90 310.83 L100.15 310.84 L100.40 310.85 L100.65 310.86 L100.90 310.87 L101.15 310.88 L101.40 310.89 L101.65 310.92 L101.90 310.93 L102.15 310.94 L102.40 310.94 L102.65 310.95 L102.90 310.96 L103.15 310.96 L103.40 310.97 L103.65 310.90 L103.90 310.90 L104.15 310.91 L104.40 310.91 L104.65 310.92 L104.90 310.92 L105.15 310.93 L105.40 310.93 L105.65 310.96 L105.90 310.96 L106.15 310.97 L106.40 310.97 L106.65 310.98 L106.90 310.98 L107.15 310.98 L107.40 310.99 L107.65 310.97 L107.90 310.97 L108.15 310.98 L108.40 310.98 L108.65 310.98 L108.90 310.99 L109.15 310.99 L109.40 310.99 L109.65 310.99 L109.90 311.00 L110.15 311.00 L110.40 311.00 L110.65 311.00 L110.90 311.00 L111.15 311.01 L111.40 311.01 L111.65 311.04 L111.90 311.04 L112.15 311.04 L112.40 311.04 L112.65 311.05 L112.90 311.05 L113.15 311.05 L113.40 311.05 L113.65 311.01 L113.90 311.01 L114.15 311.01 L114.40 311.01 L114.65 311.01 L114.90 311.02 L115.15 311.02 L115.40 311.02 L115.65 311.03 L115.90 311.03 L116.15 311.03 L116.40 311.03 L116.65 311.02 L116.90 311.02 L117.15 311.02 L117.40 311.02 L117.65 311.00 L117.90 311.00 L118.15 311.00 L118.40 311.00 L118.65 311.00 L118.90 310.99 L119.15 310.97 L119.40 310.93 L119.65 310.93 L119.90 310.82 L120.15 310.66 L120.40 310.44 L120.65 310.17 L120.90 309.84 L121.15 309.48 L121.40 309.11 L121.65 308.74 L121.90 308.51 L122.15 308.41 L122.20 308.41 L122.40 308.47 L122.65 308.69 L122.90 309.02 L123.15 309.40 L123.40 309.83 L123.65 310.21 L123.90 310.53 L124.15 310.81 L124.40 311.02 L124.65 311.18 L124.90 311.29 L125.15 311.37 L125.40 311.44 L125.65 311.49 L125.90 311.52 L126.15 311.55 L126.40 311.57 L126.65 311.60 L126.90 311.62 L127.15 311.64 L127.40 311.55 L127.65 311.57 L127.90 311.58 L128.15 311.60 L128.40 311.62 L128.65 311.64 L128.90 311.65 L129.15 311.67 L129.40 311.73 L129.65 311.75 L129.90 311.77 L130.15 311.77 L130.40 311.78 L130.65 311.78 L130.90 311.78 L131.15 311.78 L131.40 311.84 L131.65 311.84 L131.90 311.85 L132.15 311.85 L132.40 311.85 L132.65 311.85 L132.90 311.85 L133.15 311.85 L133.40 311.84 L133.65 311.84 L133.90 311.84 L134.15 311.84 L134.40 311.84 L134.65 311.84 L134.90 311.84 L135.15 311.84 L135.40 311.73 L135.65 311.73 L135.90 311.73 L136.15 311.73 L136.40 311.73 L136.65 311.73 L136.90 311.73 L137.15 311.74 L137.40 311.73 L137.65 311.73 L137.90 311.73 L138.15 311.74 L138.40 311.74 L138.65 311.74 L138.90 311.74 L139.15 311.74 L139.40 311.79 L139.65 311.79 L139.90 311.79 L140.15 311.79 L140.40 311.79 L140.65 311.79 L140.90 311.79 L141.15 311.79 L141.40 311.74 L141.65 311.74 L141.90 311.74 L142.15 311.74 L142.40 311.74 L142.65 311.74 L142.90 311.74 L143.15 311.74 L143.40 311.77 L143.65 311.77 L143.90 311.77 L144.15 311.77 L144.40 311.77 L144.65 311.77 L144.90 311.77 L145.15 311.77 L145.40 311.74 L145.65 311.75 L145.90 311.75 L146.15 311.75 L146.40 311.75 L146.65 311.75 L146.90 311.75 L147.15 311.75 L147.40 311.84 L147.65 311.84 L147.90 311.85 L148.15 311.85 L148.40 311.85 L148.65 311.85 L148.90 311.85 L149.15 311.85 L149.40 311.87 L149.65 311.87 L149.90 311.87 L150.15 311.87 L150.40 311.87 L150.65 311.87 L150.90 311.87 L151.15 311.87 L151.40 311.89 L151.65 311.89 L151.90 311.89 L152.15 311.89 L152.40 311.89 L152.65 311.89 L152.90 311.89 L153.15 311.89 L153.40 311.77 L153.65 311.77 L153.90 311.77 L154.15 311.77 L154.40 311.78 L154.65 311.78 L154.90 311.78 L155.15 311.78 L155.40 311.87 L155.65 311.87 L155.90 311.87 L156.15 311.87 L156.40 311.87 L156.65 311.87 L156.90 311.87 L157.15 311.87 L157.40 311.86 L157.65 311.86 L157.90 311.86 L158.15 311.86 L158.40 311.86 L158.65 311.86 L158.90 311.86 L159.15 311.86 L159.40 311.78 L159.65 311.78 L159.90 311.78 L160.15 311.78 L160.40 311.78 L160.65 311.78 L160.90 311.79 L161.15 311.79 L161.40 311.90 L161.65 311.90 L161.90 311.91 L162.15 311.91 L162.40 311.91 L162.65 311.91 L162.90 311.91 L163.15 311.91 L163.40 311.92 L163.65 311.92 L163.90 311.92 L164.15 311.92 L164.40 311.92 L164.65 311.92 L164.90 311.92 L165.15 311.92 L165.40 311.81 L165.65 311.81 L165.90 311.81 L166.15 311.81 L166.40 311.81 L166.65 311.81 L166.90 311.81 L167.15 311.81 L167.40 311.93 L167.65 311.93 L167.90 311.93 L168.15 311.93 L168.40 311.93 L168.65 311.93 L168.90 311.93 L169.15 311.93 L169.40 311.84 L169.65 311.84 L169.90 311.84 L170.15 311.84 L170.40 311.84 L170.65 311.84 L170.90 311.84 L171.15 311.84 L171.40 311.86 L171.65 311.86 L171.90 311.86 L172.15 311.86 L172.40 311.86 L172.65 311.86 L172.90 311.86 L173.15 311.86 L173.40 311.94 L173.65 311.94 L173.90 311.94 L174.15 311.94 L174.40 311.94 L174.65 311.94 L174.90 311.94 L175.15 311.94 L175.40 311.92 L175.65 311.92 L175.90 311.92 L176.15 311.92 L176.40 311.92 L176.65 311.92 L176.90 311.92 L177.15 311.92 L177.40 311.82 L177.65 311.82 L177.90 311.82 L178.15 311.82 L178.40 311.82 L178.65 311.82 L178.90 311.82 L179.15 311.82 L179.40 311.86 L179.65 311.86 L179.90 311.86 L180.15 311.86 L180.40 311.86 L180.65 311.86 L180.90 311.86 L181.15 311.87 L181.40 311.88 L181.65 311.88 L181.90 311.88 L182.15 311.88 L182.40 311.88 L182.65 311.88 L182.90 311.88 L183.15 311.88 L183.40 311.85 L183.65 311.85 L183.90 311.85 L184.15 311.85 L184.40 311.86 L184.65 311.86 L184.90 311.86 L185.15 311.86 L185.40 311.83 L185.65 311.83 L185.90 311.83 L186.15 311.84 L186.40 311.84 L186.65 311.84 L186.90 311.84 L187.15 311.84 L187.40 311.86 L187.65 311.86 L187.90 311.86 L188.15 311.86 L188.40 311.86 L188.65 311.86 L188.90 311.86 L189.15 311.86 L189.40 311.92 L189.65 311.92 L189.90 311.93 L190.15 311.93 L190.40 311.93 L190.65 311.93 L190.90 311.93 L191.15 311.93 L191.40 311.81 L191.65 311.82 L191.90 311.82 L192.15 311.82 L192.40 311.82 L192.65 311.82 L192.90 311.82 L193.15 311.82 L193.40 311.90 L193.65 311.90 L193.90 311.90 L194.15 311.90 L194.40 311.90 L194.65 311.90 L194.90 311.91 L195.15 311.91 L195.40 311.89 L195.65 311.89 L195.90 311.89 L196.15 311.89 L196.40 311.89 L196.65 311.89 L196.90 311.89 L197.15 311.89 L197.40 311.82 L197.65 311.82 L197.90 311.82 L198.15 311.82 L198.40 311.82 L198.65 311.82 L198.90 311.82 L199.15 311.83 L199.40 311.88 L199.65 311.88 L199.90 311.88 L200.15 311.88 L200.40 311.88 L200.65 311.88 L200.90 311.88 L201.15 311.88 L201.40 311.92 L201.65 311.93 L201.90 311.93 L202.15 311.93 L202.40 311.93 L202.65 311.93 L202.90 311.93 L203.15 311.93 L203.40 311.91 L203.65 311.91 L203.90 311.91 L204.15 311.91 L204.40 311.91 L204.65 311.91 L204.90 311.91 L205.15 311.91 L205.40 311.84 L205.65 311.84 L205.90 311.84 L206.15 311.84 L206.40 311.84 L206.65 311.84 L206.90 311.84 L207.15 311.84 L207.40 311.99 L207.65 311.99 L207.90 311.99 L208.15 311.99 L208.40 311.99 L208.65 311.99 L208.90 311.99 L209.15 311.99 L209.40 311.96 L209.65 311.96 L209.90 311.96 L210.15 311.96 L210.40 311.96 L210.65 311.96 L210.90 311.96 L211.15 311.96 L211.40 311.99 L211.65 311.99 L211.90 311.98 L212.15 311.98 L212.40 311.98 L212.65 311.98 L212.90 311.98 L213.15 311.98 L213.40 311.84 L213.65 311.84 L213.90 311.84 L214.15 311.84 L214.40 311.84 L214.65 311.84 L214.90 311.84 L215.15 311.84 L215.40 311.86 L215.65 311.86 L215.90 311.86 L216.15 311.86 L216.40 311.86 L216.65 311.86 L216.90 311.85 L217.15 311.85 L217.40 311.81 L217.65 311.81 L217.90 311.81 L218.15 311.81 L218.40 311.80 L218.65 311.80 L218.90 311.79 L219.15 311.79 L219.40 311.90 L219.65 311.90 L219.90 311.89 L220.15 311.88 L220.40 311.87 L220.65 311.85 L220.90 311.84 L221.15 311.81 L221.40 311.70 L221.65 311.66 L221.90 311.60 L222.15 311.52 L222.40 311.41 L222.65 311.26 L222.90 311.03 L223.15 310.70 L223.40 310.20 L223.65 309.51 L223.90 308.48 L224.15 306.97 L224.40 304.64 L224.65 301.54 L224.90 298.39 L225.15 295.20 L225.40 292.00 L225.65 288.72 L225.90 285.45 L226.15 282.26 L226.35 279.84 L226.40 280.43 L226.65 283.52 L226.90 286.75 L227.15 290.11 L227.40 293.38 L227.65 296.61 L227.90 299.78 L228.15 302.91 L228.40 305.87 L228.65 307.78 L228.90 309.07 L229.15 309.94 L229.40 310.54 L229.65 310.95 L229.90 311.23 L230.15 311.43 L230.40 311.56 L230.65 311.66 L230.90 311.73 L231.15 311.69 L231.40 311.73 L231.65 311.76 L231.90 311.78 L232.15 311.79 L232.40 311.81 L232.65 311.82 L232.90 311.83 L233.15 311.82 L233.40 311.83 L233.65 311.83 L233.90 311.84 L234.15 311.84 L234.40 311.85 L234.65 311.85 L234.90 311.86 L235.15 311.98 L235.40 311.99 L235.65 311.99 L235.90 311.99 L236.15 311.99 L236.40 312.00 L236.65 312.00 L236.90 312.00 L237.15 311.95 L237.40 311.95 L237.65 311.95 L237.90 311.95 L238.15 311.95 L238.40 311.95 L238.65 311.96 L238.90 311.96 L239.15 311.98 L239.40 311.98 L239.65 311.98 L239.90 311.98 L240.15 311.98 L240.40 311.99 L240.65 311.99 L240.90 311.99 L241.15 311.89 L241.40 311.89 L241.65 311.89 L241.90 311.89 L242.15 311.90 L242.40 311.90 L242.65 311.90 L242.90 311.90 L243.15 311.89 L243.40 311.89 L243.65 311.89 L243.90 311.90 L244.15 311.90 L244.40 311.90 L244.65 311.90 L244.90 311.90 L245.15 312.00 L245.40 312.00 L245.65 312.00 L245.90 312.00 L246.15 312.00 L246.40 312.00 L246.65 312.00 L246.90 312.00 L247.15 311.96 L247.40 311.96 L247.65 311.96 L247.90 311.97 L248.15 311.97 L248.40 311.97 L248.65 311.97 L248.90 311.97 L249.15 311.91 L249.40 311.91 L249.65 311.91 L249.90 311.91 L250.15 311.91 L250.40 311.91 L250.65 311.91 L250.90 311.92 L251.15 312.05 L251.40 312.05 L251.65 312.06 L251.90 312.06 L252.15 312.06 L252.40 312.06 L252.65 312.06 L252.90 312.06 L253.15 312.01 L253.40 312.01 L253.65 312.01 L253.90 312.01 L254.15 312.01 L254.40 312.01 L254.65 312.01 L254.90 312.01 L255.15 312.04 L255.40 312.04 L255.65 312.04 L255.90 312.04 L256.15 312.04 L256.40 312.04 L256.65 312.04 L256.90 312.04 L257.15 311.93 L257.40 311.93 L257.65 311.93 L257.90 311.93 L258.15 311.93 L258.40 311.93 L258.65 311.93 L258.90 311.93 L259.15 312.06 L259.40 312.06 L259.65 312.06 L259.90 312.06 L260.15 312.06 L260.40 312.06 L260.65 312.06 L260.90 312.06 L261.15 311.93 L261.40 311.93 L261.65 311.93 L261.90 311.93 L262.15 311.93 L262.40 311.93 L262.65 311.93 L262.90 311.94 L263.15 312.06 L263.40 312.06 L263.65 312.06 L263.90 312.06 L264.15 312.06 L264.40 312.06 L264.65 312.07 L264.90 312.07 L265.15 312.00 L265.40 312.00 L265.65 312.00 L265.90 312.00 L266.15 312.00 L266.40 312.00 L266.65 312.00 L266.90 312.00 L267.15 311.98 L267.40 311.99 L267.65 311.99 L267.90 311.99 L268.15 311.99 L268.40 311.99 L268.65 311.99 L268.90 311.99 L269.15 312.02 L269.40 312.02 L269.65 312.02 L269.90 312.02 L270.15 312.02 L270.40 312.02 L270.65 312.02 L270.90 312.02 L271.15 312.08 L271.40 312.08 L271.65 312.08 L271.90 312.08 L272.15 312.08 L272.40 312.08 L272.65 312.08 L272.90 312.08 L273.15 311.98 L273.40 311.98 L273.65 311.98 L273.90 311.98 L274.15 311.98 L274.40 311.98 L274.65 311.98 L274.90 311.98 L275.15 311.96 L275.40 311.96 L275.65 311.96 L275.90 311.96 L276.15 311.96 L276.40 311.96 L276.65 311.96 L276.90 311.96 L277.15 312.02 L277.40 312.02 L277.65 312.02 L277.90 312.02 L278.15 312.02 L278.40 312.02 L278.65 312.02 L278.90 312.02 L279.15 311.97 L279.40 311.97 L279.65 311.97 L279.90 311.97 L280.15 311.97 L280.40 311.97 L280.65 311.97 L280.90 311.96 L281.15 311.94 L281.40 311.94 L281.65 311.94 L281.90 311.94 L282.15 311.93 L282.40 311.93 L282.65 311.93 L282.90 311.92 L283.15 311.93 L283.40 311.92 L283.65 311.91 L283.90 311.90 L284.15 311.89 L284.40 311.88 L284.65 311.86 L284.90 311.83 L285.15 311.77 L285.40 311.72 L285.65 311.65 L285.90 311.55 L286.15 311.40 L286.40 311.20 L286.65 310.92 L286.90 310.51 L287.15 309.95 L287.40 309.12 L287.65 307.83 L287.90 306.31 L288.15 304.77 L288.40 303.21 L288.65 301.62 L288.90 300.02 L289.15 298.44 L289.40 296.86 L289.65 295.36 L289.70 295.07 L289.90 296.25 L290.15 297.80 L290.40 299.40 L290.65 301.00 L290.90 302.60 L291.15 304.17 L291.40 305.72 L291.65 307.25 L291.90 308.71 L292.15 309.68 L292.40 310.35 L292.65 310.82 L292.90 311.22 L293.15 311.46 L293.40 311.62 L293.65 311.74 L293.90 311.82 L294.15 311.88 L294.40 311.92 L294.65 311.95 L294.90 311.90 L295.15 311.92 L295.40 311.94 L295.65 311.95 L295.90 311.96 L296.15 311.96 L296.40 311.97 L296.65 311.97 L296.90 312.01 L297.15 312.01 L297.40 312.02 L297.65 312.02 L297.90 312.02 L298.15 312.03 L298.40 312.03 L298.65 312.03 L298.90 311.98 L299.15 311.98 L299.40 311.98 L299.65 311.98 L299.90 311.98 L300.15 311.98 L300.40 311.99 L300.65 311.99 L300.90 312.01 L301.15 312.01 L301.40 312.01 L301.65 312.01 L301.90 312.01 L302.15 312.01 L302.40 312.01 L302.65 312.01 L302.90 311.96 L303.15 311.96 L303.40 311.96 L303.65 311.96 L303.90 311.95 L304.15 311.95 L304.40 311.94 L304.65 311.94 L304.90 311.97 L305.15 311.95 L305.40 311.93 L305.65 311.90 L305.90 311.85 L306.15 311.78 L306.40 311.69 L306.65 311.56 L306.90 311.37 L307.15 311.19 L307.40 310.98 L307.65 310.75 L307.90 310.52 L308.15 310.30 L308.40 310.12 L308.65 310.01 L308.90 310.08 L309.15 310.12 L309.40 310.24 L309.65 310.42 L309.90 310.64 L310.15 310.87 L310.40 311.10 L310.65 311.31 L310.90 311.47 L311.15 311.62 L311.40 311.75 L311.65 311.84 L311.90 311.91 L312.15 311.96 L312.40 311.99 L312.65 312.02 L312.90 311.97 L313.15 311.99 L313.40 311.99 L313.65 312.00 L313.90 312.00 L314.15 312.01 L314.40 312.01 L314.65 312.01 L314.90 312.06 L315.15 312.06 L315.40 312.07 L315.65 312.07 L315.90 312.07 L316.15 312.07 L316.40 312.07 L316.65 312.07 L316.90 312.15 L317.15 312.15 L317.40 312.15 L317.65 312.15 L317.90 312.15 L318.15 312.16 L318.40 312.16 L318.65 312.16 L318.90 312.03 L319.15 312.03 L319.40 312.03 L319.65 312.03 L319.90 312.03 L320.15 312.03 L320.40 312.03 L320.65 312.03 L320.90 312.15 L321.15 312.15 L321.40 312.15 L321.65 312.15 L321.90 312.15 L322.15 312.15 L322.40 312.15 L322.65 312.15 L322.90 312.09 L323.15 312.09 L323.40 312.09 L323.65 312.09 L323.90 312.09 L324.15 312.09 L324.40 312.09 L324.65 312.09 L324.90 312.10 L325.15 312.10 L325.40 312.10 L325.65 312.11 L325.90 312.11 L326.15 312.11 L326.40 312.11 L326.65 312.11 L326.90 312.16 L327.15 312.16 L327.40 312.16 L327.65 312.16 L327.90 312.16 L328.15 312.16 L328.40 312.17 L328.65 312.17 L328.90 312.10 L329.15 312.10 L329.40 312.10 L329.65 312.10 L329.90 312.10 L330.15 312.10 L330.40 312.10 L330.65 312.10 L330.90 312.12 L331.15 312.12 L331.40 312.12 L331.65 312.12 L331.90 312.12 L332.15 312.12 L332.40 312.12 L332.65 312.12 L332.90 312.15 L333.15 312.15 L333.40 312.15 L333.65 312.15 L333.90 312.15 L334.15 312.15 L334.40 312.15 L334.65 312.15 L334.90 312.20 L335.15 312.20 L335.40 312.20 L335.65 312.20 L335.90 312.20 L336.15 312.20 L336.40 312.20 L336.65 312.20 L336.90 312.10 L337.15 312.10 L337.40 312.10 L337.65 312.10 L337.90 312.10 L338.15 312.10 L338.40 312.10 L338.65 312.10 L338.90 312.18 L339.15 312.18 L339.40 312.18 L339.65 312.18 L339.90 312.19 L340.15 312.19 L340.40 312.19 L340.65 312.19 L340.90 312.17 L341.15 312.17 L341.40 312.17 L341.65 312.17 L341.90 312.17 L342.15 312.17 L342.40 312.17 L342.65 312.17 L342.90 312.16 L343.15 312.16 L343.40 312.16 L343.65 312.16 L343.90 312.16 L344.15 312.16 L344.40 312.16 L344.65 312.16 L344.90 312.12 L345.15 312.13 L345.40 312.13 L345.65 312.13 L345.90 312.13 L346.15 312.13 L346.40 312.13 L346.65 312.13 L346.90 312.12 L347.15 312.12 L347.40 312.12 L347.65 312.12 L347.90 312.12 L348.15 312.12 L348.40 312.12 L348.65 312.12 L348.90 312.08 L349.15 312.08 L349.40 312.08 L349.65 312.08 L349.90 312.08 L350.15 312.08 L350.40 312.08 L350.65 312.08 L350.90 312.09 L351.15 312.09 L351.40 312.09 L351.65 312.09 L351.90 312.09 L352.15 312.09 L352.40 312.09 L352.65 312.09 L352.90 312.08 L353.15 312.08 L353.40 312.08 L353.65 312.09 L353.90 312.09 L354.15 312.09 L354.40 312.09 L354.65 312.09 L354.90 312.19 L355.15 312.19 L355.40 312.19 L355.65 312.20 L355.90 312.20 L356.15 312.20 L356.40 312.20 L356.65 312.20 L356.90 312.12 L357.15 312.12 L357.40 312.12 L357.65 312.12 L357.90 312.12 L358.15 312.12 L358.40 312.12 L358.65 312.12 L358.90 312.11 L359.15 312.11 L359.40 312.11 L359.65 312.11 L359.90 312.11 L360.15 312.11 L360.40 312.11 L360.65 312.11 L360.90 312.10 L361.15 312.10 L361.40 312.10 L361.65 312.10 L361.90 312.10 L362.15 312.10 L362.40 312.10 L362.65 312.10 L362.90 312.22 L363.15 312.22 L363.40 312.22 L363.65 312.22 L363.90 312.22 L364.15 312.22 L364.40 312.22 L364.65 312.22 L364.90 312.23 L365.15 312.23 L365.40 312.23 L365.65 312.23 L365.90 312.23 L366.15 312.23 L366.40 312.23 L366.65 312.23 L366.90 312.20 L367.15 312.20 L367.40 312.20 L367.65 312.20 L367.90 312.20 L368.15 312.20 L368.40 312.20 L368.65 312.20 L368.90 312.14 L369.15 312.14 L369.40 312.14 L369.65 312.14 L369.90 312.14 L370.15 312.14 L370.40 312.14 L370.65 312.14 L370.90 312.13 L371.15 312.13 L371.40 312.13 L371.65 312.13 L371.90 312.13 L372.15 312.13 L372.40 312.13 L372.65 312.13 L372.90 312.13 L373.15 312.13 L373.40 312.13 L373.65 312.13 L373.90 312.13 L374.15 312.13 L374.40 312.13 L374.65 312.13 L374.90 312.15 L375.15 312.15 L375.40 312.15 L375.65 312.14 L375.90 312.14 L376.15 312.13 L376.40 312.12 L376.65 312.11 L376.90 312.04 L377.15 312.01 L377.40 311.97 L377.65 311.92 L377.90 311.85 L378.15 311.75 L378.40 311.63 L378.65 311.47 L378.90 311.34 L379.15 311.13 L379.40 310.90 L379.65 310.66 L379.90 310.43 L380.15 310.21 L380.40 310.04 L380.65 309.93 L380.90 309.86 L381.15 309.90 L381.40 310.01 L381.65 310.18 L381.90 310.40 L382.15 310.63 L382.40 310.87 L382.65 311.10 L382.90 311.42 L383.15 311.60 L383.40 311.76 L383.65 311.88 L383.90 311.98 L384.15 312.05 L384.40 312.11 L384.65 312.15 L384.90 312.17 L385.15 312.19 L385.40 312.21 L385.65 312.22 L385.90 312.22 L386.15 312.23 L386.40 312.23 L386.65 312.24 L386.90 312.17 L387.15 312.17 L387.40 312.18 L387.65 312.18 L387.90 312.18 L388.15 312.18 L388.40 312.18 L388.65 312.18 L388.90 312.14 L389.15 312.14 L389.40 312.14 L389.65 312.14 L389.90 312.14 L390.15 312.14 L390.40 312.14 L390.65 312.14 L390.90 312.26 L391.15 312.26 L391.40 312.26 L391.65 312.26 L391.90 312.26 L392.15 312.26 L392.40 312.26 L392.65 312.26 L392.90 312.16 L393.15 312.16 L393.40 312.16 L393.65 312.16 L393.90 312.16 L394.15 312.16 L394.40 312.16 L394.65 312.16 L394.90 312.17 L395.15 312.17 L395.40 312.17 L395.65 312.17 L395.90 312.17 L396.15 312.17 L396.40 312.17 L396.65 312.17 L396.90 312.11 L397.15 312.11 L397.40 312.11 L397.65 312.11 L397.90 312.11 L398.15 312.11 L398.40 312.11 L398.65 312.11 L398.90 312.17 L399.15 312.17 L399.40 312.17 L399.65 312.17 L399.90 312.17 L400.15 312.17 L400.40 312.17 L400.65 312.17 L400.90 312.19 L401.15 312.19 L401.40 312.19 L401.65 312.19 L401.90 312.19 L402.15 312.19 L402.40 312.19 L402.65 312.19 L402.90 312.19 L403.15 312.19 L403.40 312.19 L403.65 312.19 L403.90 312.19 L404.15 312.19 L404.40 312.19 L404.65 312.19 L404.90 312.14 L405.15 312.14 L405.40 312.14 L405.65 312.14 L405.90 312.14 L406.15 312.14 L406.40 312.14 L406.65 312.14 L406.90 312.19 L407.15 312.19 L407.40 312.19 L407.65 312.19 L407.90 312.19 L408.15 312.19 L408.40 312.19 L408.65 312.19 L408.90 312.11 L409.15 312.11 L409.40 312.11 L409.65 312.11 L409.90 312.11 L410.15 312.11 L410.40 312.11 L410.65 312.11 L410.90 312.15 L411.15 312.15 L411.40 312.15 L411.65 312.15 L411.90 312.15 L412.15 312.15 L412.40 312.15 L412.65 312.15 L412.90 312.12 L413.15 312.12 L413.40 312.12 L413.65 312.12 L413.90 312.12 L414.15 312.12 L414.40 312.12 L414.65 312.12 L414.90 312.17 L415.15 312.17 L415.40 312.17 L415.65 312.17 L415.90 312.17 L416.15 312.17 L416.40 312.17 L416.65 312.17 L416.90 312.11 L417.15 312.11 L417.40 312.11 L417.65 312.11 L417.90 312.11 L418.15 312.11 L418.40 312.11 L418.65 312.11 L418.90 312.10 L419.15 312.10 L419.40 312.10 L419.65 312.10 L419.90 312.10 L420.15 312.10 L420.40 312.10 L420.65 312.09 L420.90 312.14 L421.15 312.14 L421.40 312.14 L421.65 312.13 L421.90 312.13 L422.15 312.13 L422.40 312.13 L422.65 312.13 L422.90 312.11 L423.15 312.11 L423.40 312.11 L423.65 312.11 L423.90 312.10 L424.15 312.10 L424.40 312.10 L424.65 312.09 L424.90 312.14 L425.15 312.14 L425.40 312.13 L425.65 312.13 L425.90 312.12 L426.15 312.11 L426.40 312.10 L426.65 312.09 L426.90 312.06 L427.15 312.04 L427.40 312.01 L427.65 311.97 L427.90 311.91 L428.15 311.83 L428.40 311.71 L428.65 311.56 L428.90 311.38 L429.15 311.11 L429.40 310.78 L429.65 310.38 L429.90 309.91 L430.15 309.40 L430.40 308.86 L430.65 308.34 L430.90 307.85 L431.15 307.47 L431.40 307.23 L431.60 307.17 L431.65 307.18 L431.90 307.31 L432.15 307.60 L432.40 308.03 L432.65 308.54 L432.90 309.07 L433.15 309.60 L433.40 310.10 L433.65 310.54 L433.90 310.91 L434.15 311.22 L434.40 311.47 L434.65 311.68 L434.90 311.82 L435.15 311.92 L435.40 311.99 L435.65 312.04 L435.90 312.08 L436.15 312.10 L436.40 312.12 L436.65 312.06 L436.90 312.07 L437.15 312.08 L437.40 312.09 L437.65 312.09 L437.90 312.10 L438.15 312.11 L438.40 312.11 L438.65 312.10 L438.90 312.11 L439.15 312.11 L439.40 312.11 L439.65 312.12 L439.90 312.12 L440.15 312.12 L440.40 312.12 L440.65 312.23 L440.90 312.23 L441.15 312.23 L441.40 312.23 L441.65 312.23 L441.90 312.23 L442.15 312.23 L442.40 312.23 L442.65 312.10 L442.90 312.10 L443.15 312.09 L443.40 312.09 L443.65 312.08 L443.90 312.07 L444.15 312.05 L444.40 312.02 L444.65 312.08 L444.90 312.03 L445.15 311.97 L445.40 311.90 L445.65 311.81 L445.90 311.72 L446.15 311.62 L446.40 311.53 L446.65 311.44 L446.90 311.38 L447.15 311.36 L447.20 311.36 L447.40 311.37 L447.65 311.41 L447.90 311.49 L448.15 311.57 L448.40 311.57 L448.65 311.67 L448.90 311.76 L449.15 311.84 L449.40 311.91 L449.65 311.96 L449.90 312.00 L450.15 312.03 L450.40 312.18 L450.65 312.20 L450.90 312.21 L451.15 312.22 L451.40 312.22 L451.65 312.23 L451.90 312.23 L452.15 312.23 L452.40 312.24 L452.65 312.24 L452.90 312.24 L453.15 312.24 L453.40 312.24 L453.65 312.25 L453.90 312.25 L454.15 312.25 L454.40 312.21 L454.65 312.21 L454.90 312.21 L455.15 312.21 L455.40 312.21 L455.65 312.21 L455.90 312.21 L456.15 312.21 L456.40 312.23 L456.65 312.23 L456.90 312.23 L457.15 312.23 L457.40 312.23 L457.65 312.23 L457.90 312.23 L458.15 312.23 L458.40 312.24 L458.65 312.24 L458.90 312.24 L459.15 312.24 L459.40 312.24 L459.65 312.24 L459.90 312.24 L460.15 312.24 L460.40 312.13 L460.65 312.13 L460.90 312.13 L461.15 312.13 L461.40 312.13 L461.65 312.14 L461.90 312.14 L462.15 312.14 L462.40 312.20 L462.65 312.20 L462.90 312.20 L463.15 312.20 L463.40 312.20 L463.65 312.20 L463.90 312.20 L464.15 312.20 L464.40 312.19 L464.65 312.19 L464.90 312.19 L465.15 312.19 L465.40 312.19 L465.65 312.19 L465.90 312.19 L466.15 312.19 L466.40 312.25 L466.65 312.25 L466.90 312.25 L467.15 312.25 L467.40 312.25 L467.65 312.25 L467.90 312.25 L468.15 312.25 L468.40 312.24 L468.65 312.24 L468.90 312.24 L469.15 312.24 L469.40 312.24 L469.65 312.24 L469.90 312.24 L470.15 312.24 L470.40 312.25 L470.65 312.25 L470.90 312.25 L471.15 312.25 L471.40 312.25 L471.65 312.25 L471.90 312.25 L472.15 312.25 L472.40 312.21 L472.65 312.21 L472.90 312.21 L473.15 312.21 L473.40 312.21 L473.65 312.21 L473.90 312.21 L474.15 312.21 L474.40 312.26 L474.65 312.26 L474.90 312.26 L475.15 312.26 L475.40 312.26 L475.65 312.26 L475.90 312.26 L476.15 312.26 L476.40 312.22 L476.65 312.22 L476.90 312.22 L477.15 312.22 L477.40 312.22 L477.65 312.22 L477.90 312.22 L478.15 312.22 L478.40 312.23 L478.65 312.23 L478.90 312.23 L479.15 312.23 L479.40 312.23 L479.65 312.23 L479.90 312.23 L480.15 312.23 L480.40 312.15 L480.65 312.15 L480.90 312.15 L481.15 312.15 L481.40 312.15 L481.65 312.15 L481.90 312.15 L482.15 312.15 L482.40 312.12 L482.65 312.12 L482.90 312.12 L483.15 312.12 L483.40 312.12 L483.65 312.12 L483.90 312.12 L484.15 312.12 L484.40 312.13 L484.65 312.13 L484.90 312.13 L485.15 312.13 L485.40 312.13 L485.65 312.13 L485.90 312.13 L486.15 312.13 L486.40 312.17 L486.65 312.17 L486.90 312.17 L487.15 312.17 L487.40 312.17 L487.65 312.17 L487.90 312.17 L488.15 312.17 L488.40 312.13 L488.65 312.13 L488.90 312.13 L489.15 312.13 L489.40 312.13 L489.65 312.13 L489.90 312.13 L490.15 312.13 L490.40 312.24 L490.65 312.24 L490.90 312.24 L491.15 312.24 L491.40 312.24 L491.65 312.24 L491.90 312.24 L492.15 312.24 L492.40 312.20 L492.65 312.20 L492.90 312.20 L493.15 312.20 L493.40 312.20 L493.65 312.20 L493.90 312.20 L494.15 312.20 L494.40 312.21 L494.65 312.21 L494.90 312.21 L495.15 312.21 L495.40 312.21 L495.65 312.21 L495.90 312.21 L496.15 312.20 L496.40 312.20 L496.65 312.20 L496.90 312.20 L497.15 312.20 L497.40 312.20 L497.65 312.20 L497.90 312.20 L498.15 312.20 L498.40 312.21 L498.65 312.21 L498.90 312.21 L499.15 312.20 L499.40 312.20 L499.65 312.20 L499.90 312.20 L500.15 312.20 L500.40 312.17 L500.65 312.17 L500.90 312.17 L501.15 312.16 L501.40 312.16 L501.65 312.16 L501.90 312.16 L502.15 312.16 L502.40 312.08 L502.65 312.07 L502.90 312.07 L503.15 312.07 L503.40 312.06 L503.65 312.06 L503.90 312.06 L504.15 312.05 L504.40 312.17 L504.65 312.17 L504.90 312.16 L505.15 312.15 L505.40 312.14 L505.65 312.13 L505.90 312.11 L506.15 312.09 L506.40 312.06 L506.65 312.01 L506.90 311.96 L507.15 311.88 L507.40 311.78 L507.65 311.64 L507.90 311.46 L508.15 311.23 L508.40 310.91 L508.65 310.58 L508.90 310.21 L509.15 309.80 L509.40 309.37 L509.65 308.95 L509.90 308.55 L510.15 308.23 L510.40 308.01 L510.65 307.91 L510.70 307.90 L510.90 307.95 L511.15 308.13 L511.40 308.42 L511.65 308.79 L511.90 309.20 L512.15 309.65 L512.40 310.07 L512.65 310.46 L512.90 310.81 L513.15 311.11 L513.40 311.36 L513.65 311.56 L513.90 311.71 L514.15 311.73 L514.40 311.82 L514.65 311.89 L514.90 311.93 L515.15 311.96 L515.40 311.99 L515.65 312.01 L515.90 312.02 L516.15 312.14 L516.40 312.15 L516.65 312.16 L516.90 312.16 L517.15 312.17 L517.40 312.17 L517.65 312.18 L517.90 312.18 L518.15 312.11 L518.40 312.11 L518.65 312.11 L518.90 312.12 L519.15 312.12 L519.40 312.12 L519.65 312.12 L519.90 312.12 L520.15 312.10 L520.40 312.10 L520.65 312.10 L520.90 312.10 L521.15 312.10 L521.40 312.10 L521.65 312.11 L521.90 312.11 L522.15 312.14 L522.40 312.14 L522.65 312.14 L522.90 312.14 L523.15 312.14 L523.40 312.14 L523.65 312.14 L523.90 312.14 L524.15 312.22 L524.40 312.22 L524.65 312.22 L524.90 312.22 L525.15 312.22 L525.40 312.22 L525.65 312.22 L525.90 312.22 L526.15 312.14 L526.40 312.14 L526.65 312.14 L526.90 312.14 L527.15 312.14 L527.40 312.14 L527.65 312.14 L527.90 312.14 L528.15 312.23 L528.40 312.23 L528.65 312.23 L528.90 312.23 L529.15 312.23 L529.40 312.23 L529.65 312.23 L529.90 312.23 L530.15 312.27 L530.40 312.27 L530.65 312.27 L530.90 312.27 L531.15 312.27 L531.40 312.27 L531.65 312.27 L531.90 312.27 L532.15 312.19 L532.40 312.19 L532.65 312.19 L532.90 312.19 L533.15 312.19 L533.40 312.19 L533.65 312.19 L533.90 312.19" fill="none" stroke="#ff3e3e" stroke-width="1.1" stroke-linejoin="round"/>
<path d="M46.15 194.86 L46.40 194.86 L46.65 194.86 L46.90 194.86 L47.15 194.86 L47.40 194.86 L47.65 194.86 L47.90 194.86 L48.15 194.87 L48.40 194.87 L48.65 194.87 L48.90 194.87 L49.15 194.88 L49.40 194.88 L49.65 194.88 L49.90 194.88 L50.15 194.91 L50.40 194.91 L50.65 194.91 L50.90 194.91 L51.15 194.91 L51.40 194.91 L51.65 194.91 L51.90 194.91 L52.15 194.92 L52.40 194.92 L52.65 194.92 L52.90 194.92 L53.15 194.92 L53.40 194.92 L53.65 194.92 L53.90 194.92 L54.15 194.90 L54.40 194.90 L54.65 194.90 L54.90 194.90 L55.15 194.90 L55.40 194.90 L55.65 194.90 L55.90 194.90 L56.15 194.90 L56.40 194.90 L56.65 194.90 L56.90 194.90 L57.15 194.90 L57.40 194.90 L57.65 194.90 L57.90 194.90 L58.15 194.81 L58.40 194.81 L58.65 194.81 L58.90 194.81 L59.15 194.81 L59.40 194.81 L59.65 194.81 L59.90 194.81 L60.15 194.82 L60.40 194.82 L60.65 194.82 L60.90 194.82 L61.15 194.82 L61.40 194.82 L61.65 194.82 L61.90 194.82 L62.15 194.83 L62.40 194.83 L62.65 194.83 L62.90 194.83 L63.15 194.83 L63.40 194.83 L63.65 194.83 L63.90 194.83 L64.15 194.90 L64.40 194.90 L64.65 194.90 L64.90 194.90 L65.15 194.90 L65.40 194.89 L65.65 194.89 L65.90 194.88 L66.15 194.81 L66.40 194.79 L66.65 194.78 L66.90 194.75 L67.15 194.72 L67.40 194.68 L67.65 194.64 L67.90 194.60 L68.15 194.61 L68.40 194.58 L68.65 194.56 L68.70 194.56 L68.90 194.57 L69.15 194.59 L69.40 194.62 L69.65 194.66 L69.90 194.61 L70.15 194.64 L70.40 194.67 L70.65 194.69 L70.90 194.71 L71.15 194.72 L71.40 194.73 L71.65 194.73 L71.90 194.74 L72.15 194.74 L72.40 194.73 L72.65 194.73 L72.90 194.73 L73.15 194.73 L73.40 194.72 L73.65 194.72 L73.90 194.75 L74.15 194.74 L74.40 194.74 L74.65 194.74 L74.90 194.73 L75.15 194.73 L75.40 194.72 L75.65 194.71 L75.90 194.77 L76.15 194.77 L76.40 194.76 L76.65 194.75 L76.90 194.74 L77.15 194.74 L77.40 194.73 L77.65 194.72 L77.90 194.71 L78.15 194.70 L78.40 194.69 L78.65 194.68 L78.90 194.67 L79.15 194.66 L79.40 194.64 L79.65 194.63 L79.90 194.61 L80.15 194.59 L80.40 194.58 L80.65 194.56 L80.90 194.54 L81.15 194.52 L81.40 194.50 L81.65 194.47 L81.90 194.38 L82.15 194.36 L82.40 194.33 L82.65 194.29 L82.90 194.26 L83.15 194.22 L83.40 194.18 L83.65 194.14 L83.90 194.13 L84.15 194.07 L84.40 194.02 L84.65 193.95 L84.90 193.88 L85.15 193.79 L85.40 193.69 L85.65 193.57 L85.90 193.40 L86.15 193.19 L86.40 192.91 L86.65 192.50 L86.90 191.89 L87.15 190.96 L87.40 189.51 L87.65 187.20 L87.90 183.50 L88.15 177.52 L88.40 167.77 L88.65 152.43 L88.90 136.94 L89.15 121.26 L89.40 105.43 L89.65 89.61 L89.90 74.10 L90.00 68.10 L90.15 77.14 L90.40 92.71 L90.65 108.56 L90.90 124.36 L91.15 140.00 L91.40 155.46 L91.65 170.20 L91.90 179.03 L92.15 184.47 L92.40 187.83 L92.65 189.93 L92.90 191.26 L93.15 192.11 L93.40 192.68 L93.65 192.95 L93.90 193.21 L94.15 193.41 L94.40 193.56 L94.65 193.68 L94.90 193.78 L95.15 193.86 L95.40 193.93 L95.65 194.12 L95.90 194.18 L96.15 194.23 L96.40 194.28 L96.65 194.33 L96.90 194.37 L97.15 194.40 L97.40 194.44 L97.65 194.46 L97.90 194.49 L98.15 194.52 L98.40 194.55 L98.65 194.57 L98.90 194.60 L99.15 194.62 L99.40 194.64 L99.65 194.51 L99.90 194.53 L100.15 194.55 L100.40 194.56 L100.65 194.58 L100.90 194.59 L101.15 194.61 L101.40 194.62 L101.65 194.70 L101.90 194.71 L102.15 194.72 L102.40 194.73 L102.65 194.74 L102.90 194.75 L103.15 194.76 L103.40 194.77 L103.65 194.84 L103.90 194.84 L104.15 194.85 L104.40 194.86 L104.65 194.86 L104.90 194.87 L105.15 194.88 L105.40 194.88 L105.65 194.91 L105.90 194.92 L106.15 194.92 L106.40 194.93 L106.65 194.93 L106.90 194.94 L107.15 194.94 L107.40 194.94 L107.65 194.87 L107.90 194.87 L108.15 194.87 L108.40 194.88 L108.65 194.88 L108.90 194.88 L109.15 194.89 L109.40 194.89 L109.65 194.86 L109.90 194.87 L110.15 194.87 L110.40 194.87 L110.65 194.87 L110.90 194.88 L111.15 194.88 L111.40 194.88 L111.65 194.87 L111.90 194.87 L112.15 194.88 L112.40 194.88 L112.65 194.88 L112.90 194.88 L113.15 194.88 L113.40 194.88 L113.65 195.00 L113.90 195.00 L114.15 195.00 L114.40 195.00 L114.65 195.00 L114.90 195.00 L115.15 195.00 L115.40 195.00 L115.65 194.88 L115.90 194.88 L116.15 194.88 L116.40 194.88 L116.65 194.88 L116.90 194.87 L117.15 194.87 L117.40 194.87 L117.65 194.92 L117.90 194.91 L118.15 194.91 L118.40 194.90 L118.65 194.88 L118.90 194.86 L119.15 194.83 L119.40 194.79 L119.65 194.64 L119.90 194.53 L120.15 194.35 L120.40 194.08 L120.65 193.71 L120.90 193.22 L121.15 192.62 L121.40 191.95 L121.65 191.32 L121.90 190.71 L122.15 190.27 L122.40 190.11 L122.65 190.27 L122.90 190.71 L123.15 191.33 L123.40 192.02 L123.65 192.76 L123.90 193.36 L124.15 193.85 L124.40 194.23 L124.65 194.50 L124.90 194.68 L125.15 194.80 L125.40 194.87 L125.65 194.79 L125.90 194.82 L126.15 194.84 L126.40 194.86 L126.65 194.87 L126.90 194.88 L127.15 194.89 L127.40 194.90 L127.65 195.02 L127.90 195.02 L128.15 195.03 L128.40 195.03 L128.65 195.04 L128.90 195.04 L129.15 195.05 L129.40 195.05 L129.65 195.00 L129.90 195.01 L130.15 195.01 L130.40 195.01 L130.65 195.01 L130.90 195.02 L131.15 195.02 L131.40 195.02 L131.65 195.08 L131.90 195.08 L132.15 195.09 L132.40 195.09 L132.65 195.09 L132.90 195.09 L133.15 195.09 L133.40 195.09 L133.65 195.07 L133.90 195.07 L134.15 195.07 L134.40 195.07 L134.65 195.07 L134.90 195.07 L135.15 195.07 L135.40 195.07 L135.65 195.00 L135.90 195.00 L136.15 195.00 L136.40 195.00 L136.65 195.00 L136.90 195.00 L137.15 195.01 L137.40 195.01 L137.65 195.11 L137.90 195.12 L138.15 195.12 L138.40 195.12 L138.65 195.12 L138.90 195.12 L139.15 195.12 L139.40 195.12 L139.65 195.06 L139.90 195.06 L140.15 195.06 L140.40 195.06 L140.65 195.06 L140.90 195.06 L141.15 195.06 L141.40 195.06 L141.65 194.99 L141.90 194.99 L142.15 194.99 L142.40 194.99 L142.65 194.99 L142.90 194.99 L143.15 194.99 L143.40 194.99 L143.65 194.99 L143.90 194.99 L144.15 194.99 L144.40 194.99 L144.65 194.99 L144.90 194.99 L145.15 195.00 L145.40 195.00 L145.65 195.07 L145.90 195.08 L146.15 195.08 L146.40 195.08 L146.65 195.08 L146.90 195.08 L147.15 195.08 L147.40 195.08 L147.65 195.07 L147.90 195.07 L148.15 195.07 L148.40 195.08 L148.65 195.08 L148.90 195.08 L149.15 195.08 L149.40 195.08 L149.65 195.05 L149.90 195.06 L150.15 195.06 L150.40 195.06 L150.65 195.06 L150.90 195.06 L151.15 195.06 L151.40 195.06 L151.65 195.03 L151.90 195.03 L152.15 195.04 L152.40 195.04 L152.65 195.04 L152.90 195.04 L153.15 195.04 L153.40 195.04 L153.65 195.07 L153.90 195.07 L154.15 195.07 L154.40 195.07 L154.65 195.07 L154.90 195.07 L155.15 195.07 L155.40 195.08 L155.65 195.07 L155.90 195.07 L156.15 195.07 L156.40 195.07 L156.65 195.07 L156.90 195.07 L157.15 195.08 L157.40 195.08 L157.65 195.16 L157.90 195.16 L158.15 195.16 L158.40 195.16 L158.65 195.16 L158.90 195.16 L159.15 195.16 L159.40 195.16 L159.65 195.03 L159.90 195.03 L160.15 195.03 L160.40 195.03 L160.65 195.03 L160.90 195.03 L161.15 195.03 L161.40 195.03 L161.65 195.15 L161.90 195.16 L162.15 195.16 L162.40 195.16 L162.65 195.16 L162.90 195.16 L163.15 195.16 L163.40 195.16 L163.65 195.17 L163.90 195.17 L164.15 195.17 L164.40 195.18 L164.65 195.18 L164.90 195.18 L165.15 195.18 L165.40 195.18 L165.65 195.06 L165.90 195.06 L166.15 195.06 L166.40 195.06 L166.65 195.07 L166.90 195.07 L167.15 195.07 L167.40 195.07 L167.65 195.20 L167.90 195.20 L168.15 195.20 L168.40 195.20 L168.65 195.20 L168.90 195.20 L169.15 195.20 L169.40 195.20 L169.65 195.17 L169.90 195.17 L170.15 195.17 L170.40 195.17 L170.65 195.17 L170.90 195.17 L171.15 195.17 L171.40 195.17 L171.65 195.20 L171.90 195.20 L172.15 195.20 L172.40 195.20 L172.65 195.20 L172.90 195.20 L173.15 195.20 L173.40 195.20 L173.65 195.11 L173.90 195.11 L174.15 195.11 L174.40 195.11 L174.65 195.11 L174.90 195.11 L175.15 195.11 L175.40 195.11 L175.65 195.12 L175.90 195.13 L176.15 195.13 L176.40 195.13 L176.65 195.13 L176.90 195.13 L177.15 195.13 L177.40 195.13 L177.65 195.13 L177.90 195.13 L178.15 195.13 L178.40 195.13 L178.65 195.13 L178.90 195.13 L179.15 195.14 L179.40 195.14 L179.65 195.23 L179.90 195.23 L180.15 195.23 L180.40 195.23 L180.65 195.24 L180.90 195.24 L181.15 195.24 L181.40 195.24 L181.65 195.17 L181.90 195.17 L182.15 195.17 L182.40 195.17 L182.65 195.17 L182.90 195.17 L183.15 195.18 L183.40 195.18 L183.65 195.14 L183.90 195.14 L184.15 195.14 L184.40 195.14 L184.65 195.14 L184.90 195.14 L185.15 195.14 L185.40 195.14 L185.65 195.15 L185.90 195.16 L186.15 195.16 L186.40 195.16 L186.65 195.16 L186.90 195.16 L187.15 195.16 L187.40 195.16 L187.65 195.13 L187.90 195.13 L188.15 195.14 L188.40 195.14 L188.65 195.14 L188.90 195.14 L189.15 195.14 L189.40 195.14 L189.65 195.10 L189.90 195.10 L190.15 195.10 L190.40 195.10 L190.65 195.10 L190.90 195.10 L191.15 195.11 L191.40 195.11 L191.65 195.11 L191.90 195.12 L192.15 195.12 L192.40 195.12 L192.65 195.12 L192.90 195.12 L193.15 195.12 L193.40 195.12 L193.65 195.24 L193.90 195.24 L194.15 195.24 L194.40 195.24 L194.65 195.24 L194.90 195.24 L195.15 195.24 L195.40 195.24 L195.65 195.15 L195.90 195.15 L196.15 195.15 L196.40 195.15 L196.65 195.15 L196.90 195.15 L197.15 195.16 L197.40 195.16 L197.65 195.26 L197.90 195.26 L198.15 195.26 L198.40 195.26 L198.65 195.26 L198.90 195.26 L199.15 195.26 L199.40 195.26 L199.65 195.15 L199.90 195.15 L200.15 195.16 L200.40 195.16 L200.65 195.16 L200.90 195.16 L201.15 195.16 L201.40 195.16 L201.65 195.16 L201.90 195.16 L202.15 195.16 L202.40 195.16 L202.65 195.16 L202.90 195.16 L203.15 195.16 L203.40 195.16 L203.65 195.20 L203.90 195.20 L204.15 195.21 L204.40 195.21 L204.65 195.21 L204.90 195.21 L205.15 195.21 L205.40 195.21 L205.65 195.16 L205.90 195.16 L206.15 195.16 L206.40 195.16 L206.65 195.16 L206.90 195.16 L207.15 195.16 L207.40 195.16 L207.65 195.19 L207.90 195.19 L208.15 195.19 L208.40 195.19 L208.65 195.19 L208.90 195.19 L209.15 195.19 L209.40 195.19 L209.65 195.29 L209.90 195.29 L210.15 195.29 L210.40 195.29 L210.65 195.29 L210.90 195.29 L211.15 195.29 L211.40 195.29 L211.65 195.28 L211.90 195.28 L212.15 195.28 L212.40 195.28 L212.65 195.28 L212.90 195.28 L213.15 195.28 L213.40 195.28 L213.65 195.27 L213.90 195.27 L214.15 195.27 L214.40 195.27 L214.65 195.27 L214.90 195.27 L215.15 195.28 L215.40 195.28 L215.65 195.25 L215.90 195.25 L216.15 195.25 L216.40 195.25 L216.65 195.25 L216.90 195.25 L217.15 195.25 L217.40 195.25 L217.65 195.30 L217.90 195.30 L218.15 195.30 L218.40 195.30 L218.65 195.30 L218.90 195.30 L219.15 195.30 L219.40 195.30 L219.65 195.30 L219.90 195.31 L220.15 195.31 L220.40 195.31 L220.65 195.31 L220.90 195.31 L221.15 195.31 L221.40 195.31 L221.65 195.24 L221.90 195.23 L222.15 195.20 L222.40 195.12 L222.65 194.92 L222.90 194.49 L223.15 193.69 L223.40 192.36 L223.65 190.43 L223.90 187.84 L224.15 184.78 L224.40 181.52 L224.65 178.40 L224.90 175.74 L225.15 173.75 L225.40 172.48 L225.65 171.75 L225.90 171.58 L226.00 171.57 L226.15 171.59 L226.40 171.84 L226.65 172.58 L226.90 173.99 L227.15 176.12 L227.40 179.00 L227.65 182.18 L227.90 185.43 L228.15 188.41 L228.40 190.88 L228.65 192.71 L228.90 193.93 L229.15 194.64 L229.40 194.97 L229.65 195.14 L229.90 195.21 L230.15 195.24 L230.40 195.25 L230.65 195.25 L230.90 195.25 L231.15 195.25 L231.40 195.30 L231.65 195.30 L231.90 195.30 L232.15 195.30 L232.40 195.30 L232.65 195.30 L232.90 195.30 L233.15 195.30 L233.40 195.28 L233.65 195.28 L233.90 195.29 L234.15 195.29 L234.40 195.29 L234.65 195.29 L234.90 195.29 L235.15 195.29 L235.40 195.23 L235.65 195.23 L235.90 195.23 L236.15 195.23 L236.40 195.23 L236.65 195.23 L236.90 195.23 L237.15 195.23 L237.40 195.20 L237.65 195.20 L237.90 195.20 L238.15 195.20 L238.40 195.20 L238.65 195.20 L238.90 195.20 L239.15 195.20 L239.40 195.34 L239.65 195.34 L239.90 195.34 L240.15 195.34 L240.40 195.34 L240.65 195.34 L240.90 195.34 L241.15 195.34 L241.40 195.22 L241.65 195.22 L241.90 195.22 L242.15 195.22 L242.40 195.22 L242.65 195.22 L242.90 195.22 L243.15 195.22 L243.40 195.28 L243.65 195.28 L243.90 195.28 L244.15 195.28 L244.40 195.28 L244.65 195.28 L244.90 195.28 L245.15 195.28 L245.40 195.26 L245.65 195.26 L245.90 195.26 L246.15 195.26 L246.40 195.26 L246.65 195.26 L246.90 195.26 L247.15 195.26 L247.40 195.26 L247.65 195.26 L247.90 195.26 L248.15 195.26 L248.40 195.26 L248.65 195.26 L248.90 195.26 L249.15 195.26 L249.40 195.33 L249.65 195.33 L249.90 195.33 L250.15 195.33 L250.40 195.33 L250.65 195.33 L250.90 195.33 L251.15 195.33 L251.40 195.37 L251.65 195.37 L251.90 195.37 L252.15 195.37 L252.40 195.37 L252.65 195.37 L252.90 195.37 L253.15 195.38 L253.40 195.26 L253.65 195.26 L253.90 195.26 L254.15 195.26 L254.40 195.26 L254.65 195.26 L254.90 195.26 L255.15 195.26 L255.40 195.33 L255.65 195.33 L255.90 195.33 L256.15 195.33 L256.40 195.33 L256.65 195.33 L256.90 195.33 L257.15 195.33 L257.40 195.27 L257.65 195.28 L257.90 195.28 L258.15 195.28 L258.40 195.28 L258.65 195.28 L258.90 195.28 L259.15 195.28 L259.40 195.32 L259.65 195.32 L259.90 195.32 L260.15 195.32 L260.40 195.32 L260.65 195.32 L260.90 195.32 L261.15 195.32 L261.40 195.30 L261.65 195.30 L261.90 195.30 L262.15 195.30 L262.40 195.30 L262.65 195.30 L262.90 195.30 L263.15 195.30 L263.40 195.26 L263.65 195.26 L263.90 195.26 L264.15 195.26 L264.40 195.27 L264.65 195.27 L264.90 195.27 L265.15 195.27 L265.40 195.27 L265.65 195.27 L265.90 195.27 L266.15 195.27 L266.40 195.27 L266.65 195.27 L266.90 195.27 L267.15 195.27 L267.40 195.28 L267.65 195.28 L267.90 195.28 L268.15 195.28 L268.40 195.28 L268.65 195.28 L268.90 195.28 L269.15 195.28 L269.40 195.39 L269.65 195.39 L269.90 195.39 L270.15 195.39 L270.40 195.39 L270.65 195.39 L270.90 195.39 L271.15 195.39 L271.40 195.33 L271.65 195.33 L271.90 195.33 L272.15 195.33 L272.40 195.33 L272.65 195.33 L272.90 195.33 L273.15 195.33 L273.40 195.28 L273.65 195.28 L273.90 195.28 L274.15 195.28 L274.40 195.28 L274.65 195.28 L274.90 195.28 L275.15 195.28 L275.40 195.39 L275.65 195.39 L275.90 195.39 L276.15 195.39 L276.40 195.39 L276.65 195.39 L276.90 195.39 L277.15 195.39 L277.40 195.41 L277.65 195.41 L277.90 195.40 L278.15 195.40 L278.40 195.40 L278.65 195.40 L278.90 195.40 L279.15 195.40 L279.40 195.31 L279.65 195.31 L279.90 195.31 L280.15 195.31 L280.40 195.30 L280.65 195.30 L280.90 195.30 L281.15 195.30 L281.40 195.24 L281.65 195.24 L281.90 195.23 L282.15 195.22 L282.40 195.22 L282.65 195.20 L282.90 195.19 L283.15 195.17 L283.40 195.15 L283.65 195.12 L283.90 195.07 L284.15 195.00 L284.40 194.91 L284.65 194.79 L284.90 194.61 L285.15 194.37 L285.40 194.01 L285.65 193.52 L285.90 192.83 L286.15 191.86 L286.40 190.42 L286.65 188.95 L286.90 187.46 L287.15 185.96 L287.40 184.47 L287.65 182.93 L287.90 181.39 L288.15 179.90 L288.40 178.47 L288.65 179.90 L288.90 181.40 L289.15 182.93 L289.40 184.43 L289.65 185.96 L289.90 187.47 L290.15 188.96 L290.40 190.43 L290.65 191.87 L290.90 192.84 L291.15 193.53 L291.40 194.04 L291.65 194.39 L291.90 194.63 L292.15 194.81 L292.40 194.93 L292.65 195.03 L292.90 195.09 L293.15 195.14 L293.40 195.18 L293.65 195.21 L293.90 195.23 L294.15 195.24 L294.40 195.25 L294.65 195.26 L294.90 195.27 L295.15 195.28 L295.40 195.33 L295.65 195.34 L295.90 195.34 L296.15 195.35 L296.40 195.35 L296.65 195.35 L296.90 195.35 L297.15 195.36 L297.40 195.41 L297.65 195.41 L297.90 195.41 L298.15 195.41 L298.40 195.42 L298.65 195.42 L298.90 195.42 L299.15 195.42 L299.40 195.40 L299.65 195.40 L299.90 195.40 L300.15 195.40 L300.40 195.40 L300.65 195.40 L300.90 195.40 L301.15 195.40 L301.40 195.34 L301.65 195.34 L301.90 195.34 L302.15 195.34 L302.40 195.34 L302.65 195.34 L302.90 195.33 L303.15 195.33 L303.40 195.32 L303.65 195.31 L303.90 195.29 L304.15 195.26 L304.40 195.23 L304.65 195.17 L304.90 195.09 L305.15 194.99 L305.40 194.88 L305.65 194.72 L305.90 194.53 L306.15 194.32 L306.40 194.10 L306.65 193.89 L306.90 193.71 L307.15 193.57 L307.40 193.48 L307.50 193.47 L307.65 193.49 L307.90 193.57 L308.15 193.72 L308.40 193.91 L308.65 194.13 L308.90 194.35 L309.15 194.55 L309.40 194.73 L309.65 194.89 L309.90 195.01 L310.15 195.11 L310.40 195.19 L310.65 195.24 L310.90 195.28 L311.15 195.26 L311.40 195.28 L311.65 195.29 L311.90 195.30 L312.15 195.30 L312.40 195.31 L312.65 195.31 L312.90 195.32 L313.15 195.35 L313.40 195.36 L313.65 195.36 L313.90 195.36 L314.15 195.36 L314.40 195.36 L314.65 195.37 L314.90 195.37 L315.15 195.48 L315.40 195.48 L315.65 195.48 L315.90 195.48 L316.15 195.48 L316.40 195.49 L316.65 195.49 L316.90 195.49 L317.15 195.35 L317.40 195.36 L317.65 195.36 L317.90 195.36 L318.15 195.36 L318.40 195.36 L318.65 195.36 L318.90 195.36 L319.15 195.42 L319.40 195.42 L319.65 195.42 L319.90 195.42 L320.15 195.42 L320.40 195.43 L320.65 195.43 L320.90 195.43 L321.15 195.45 L321.40 195.45 L321.65 195.45 L321.90 195.45 L322.15 195.45 L322.40 195.45 L322.65 195.45 L322.90 195.45 L323.15 195.49 L323.40 195.49 L323.65 195.49 L323.90 195.49 L324.15 195.49 L324.40 195.49 L324.65 195.49 L324.90 195.49 L325.15 195.39 L325.40 195.39 L325.65 195.39 L325.90 195.39 L326.15 195.39 L326.40 195.39 L326.65 195.40 L326.90 195.40 L327.15 195.41 L327.40 195.41 L327.65 195.41 L327.90 195.41 L328.15 195.41 L328.40 195.41 L328.65 195.41 L328.90 195.41 L329.15 195.41 L329.40 195.41 L329.65 195.41 L329.90 195.41 L330.15 195.41 L330.40 195.41 L330.65 195.41 L330.90 195.41 L331.15 195.43 L331.40 195.43 L331.65 195.44 L331.90 195.44 L332.15 195.44 L332.40 195.44 L332.65 195.44 L332.90 195.44 L333.15 195.45 L333.40 195.45 L333.65 195.45 L333.90 195.45 L334.15 195.45 L334.40 195.45 L334.65 195.45 L334.90 195.45 L335.15 195.53 L335.40 195.53 L335.65 195.53 L335.90 195.53 L336.15 195.53 L336.40 195.53 L336.65 195.53 L336.90 195.53 L337.15 195.52 L337.40 195.52 L337.65 195.52 L337.90 195.52 L338.15 195.52 L338.40 195.52 L338.65 195.52 L338.90 195.52 L339.15 195.53 L339.40 195.53 L339.65 195.53 L339.90 195.53 L340.15 195.53 L340.40 195.53 L340.65 195.53 L340.90 195.53 L341.15 195.39 L341.40 195.39 L341.65 195.40 L341.90 195.40 L342.15 195.40 L342.40 195.40 L342.65 195.40 L342.90 195.40 L343.15 195.40 L343.40 195.40 L343.65 195.40 L343.90 195.40 L344.15 195.40 L344.40 195.40 L344.65 195.40 L344.90 195.40 L345.15 195.51 L345.40 195.51 L345.65 195.51 L345.90 195.51 L346.15 195.51 L346.40 195.51 L346.65 195.52 L346.90 195.52 L347.15 195.55 L347.40 195.55 L347.65 195.55 L347.90 195.55 L348.15 195.55 L348.40 195.55 L348.65 195.55 L348.90 195.55 L349.15 195.48 L349.40 195.48 L349.65 195.48 L349.90 195.48 L350.15 195.48 L350.40 195.48 L350.65 195.49 L350.90 195.49 L351.15 195.50 L351.40 195.50 L351.65 195.51 L351.90 195.51 L352.15 195.51 L352.40 195.51 L352.65 195.51 L352.90 195.51 L353.15 195.41 L353.40 195.41 L353.65 195.41 L353.90 195.42 L354.15 195.42 L354.40 195.42 L354.65 195.42 L354.90 195.42 L355.15 195.48 L355.40 195.48 L355.65 195.48 L355.90 195.48 L356.15 195.48 L356.40 195.48 L356.65 195.48 L356.90 195.48 L357.15 195.57 L357.40 195.57 L357.65 195.57 L357.90 195.57 L358.15 195.57 L358.40 195.57 L358.65 195.57 L358.90 195.57 L359.15 195.56 L359.40 195.56 L359.65 195.56 L359.90 195.56 L360.15 195.56 L360.40 195.56 L360.65 195.56 L360.90 195.56 L361.15 195.57 L361.40 195.57 L361.65 195.57 L361.90 195.57 L362.15 195.57 L362.40 195.57 L362.65 195.57 L362.90 195.57 L363.15 195.59 L363.40 195.59 L363.65 195.59 L363.90 195.59 L364.15 195.59 L364.40 195.59 L364.65 195.59 L364.90 195.59 L365.15 195.47 L365.40 195.47 L365.65 195.47 L365.90 195.47 L366.15 195.48 L366.40 195.48 L366.65 195.48 L366.90 195.48 L367.15 195.45 L367.40 195.45 L367.65 195.45 L367.90 195.45 L368.15 195.45 L368.40 195.46 L368.65 195.46 L368.90 195.46 L369.15 195.46 L369.40 195.46 L369.65 195.46 L369.90 195.46 L370.15 195.46 L370.40 195.46 L370.65 195.46 L370.90 195.46 L371.15 195.52 L371.40 195.52 L371.65 195.52 L371.90 195.52 L372.15 195.52 L372.40 195.52 L372.65 195.52 L372.90 195.52 L373.15 195.54 L373.40 195.54 L373.65 195.54 L373.90 195.54 L374.15 195.54 L374.40 195.54 L374.65 195.54 L374.90 195.53 L375.15 195.57 L375.40 195.57 L375.65 195.56 L375.90 195.55 L376.15 195.54 L376.40 195.53 L376.65 195.51 L376.90 195.47 L377.15 195.40 L377.40 195.34 L377.65 195.27 L377.90 195.17 L378.15 195.06 L378.40 194.92 L378.65 194.77 L378.90 194.59 L379.15 194.40 L379.40 194.21 L379.65 194.04 L379.90 193.88 L380.15 193.76 L380.40 193.69 L380.60 193.67 L380.65 193.67 L380.90 193.73 L381.15 193.83 L381.40 193.96 L381.65 194.13 L381.90 194.31 L382.15 194.50 L382.40 194.68 L382.65 194.85 L382.90 194.95 L383.15 195.08 L383.40 195.18 L383.65 195.27 L383.90 195.34 L384.15 195.39 L384.40 195.42 L384.65 195.45 L384.90 195.49 L385.15 195.50 L385.40 195.51 L385.65 195.52 L385.90 195.53 L386.15 195.53 L386.40 195.54 L386.65 195.54 L386.90 195.46 L387.15 195.46 L387.40 195.46 L387.65 195.47 L387.90 195.47 L388.15 195.47 L388.40 195.47 L388.65 195.47 L388.90 195.59 L389.15 195.59 L389.40 195.60 L389.65 195.60 L389.90 195.60 L390.15 195.60 L390.40 195.60 L390.65 195.60 L390.90 195.51 L391.15 195.52 L391.40 195.52 L391.65 195.52 L391.90 195.52 L392.15 195.52 L392.40 195.52 L392.65 195.52 L392.90 195.63 L393.15 195.63 L393.40 195.63 L393.65 195.63 L393.90 195.63 L394.15 195.64 L394.40 195.64 L394.65 195.64 L394.90 195.59 L395.15 195.59 L395.40 195.59 L395.65 195.60 L395.90 195.60 L396.15 195.60 L396.40 195.60 L396.65 195.60 L396.90 195.54 L397.15 195.54 L397.40 195.54 L397.65 195.55 L397.90 195.55 L398.15 195.55 L398.40 195.55 L398.65 195.55 L398.90 195.52 L399.15 195.52 L399.40 195.52 L399.65 195.52 L399.90 195.52 L400.15 195.52 L400.40 195.52 L400.65 195.52 L400.90 195.54 L401.15 195.54 L401.40 195.54 L401.65 195.55 L401.90 195.55 L402.15 195.55 L402.40 195.55 L402.65 195.55 L402.90 195.61 L403.15 195.61 L403.40 195.61 L403.65 195.61 L403.90 195.61 L404.15 195.61 L404.40 195.61 L404.65 195.61 L404.90 195.62 L405.15 195.62 L405.40 195.62 L405.65 195.62 L405.90 195.62 L406.15 195.62 L406.40 195.63 L406.65 195.63 L406.90 195.53 L407.15 195.53 L407.40 195.53 L407.65 195.53 L407.90 195.53 L408.15 195.53 L408.40 195.53 L408.65 195.54 L408.90 195.53 L409.15 195.53 L409.40 195.53 L409.65 195.53 L409.90 195.53 L410.15 195.53 L410.40 195.53 L410.65 195.53 L410.90 195.60 L411.15 195.60 L411.40 195.60 L411.65 195.61 L411.90 195.61 L412.15 195.61 L412.40 195.61 L412.65 195.61 L412.90 195.62 L413.15 195.62 L413.40 195.62 L413.65 195.62 L413.90 195.62 L414.15 195.62 L414.40 195.62 L414.65 195.62 L414.90 195.59 L415.15 195.59 L415.40 195.59 L415.65 195.59 L415.90 195.59 L416.15 195.59 L416.40 195.59 L416.65 195.59 L416.90 195.56 L417.15 195.56 L417.40 195.56 L417.65 195.56 L417.90 195.56 L418.15 195.56 L418.40 195.56 L418.65 195.56 L418.90 195.62 L419.15 195.62 L419.40 195.62 L419.65 195.62 L419.90 195.62 L420.15 195.62 L420.40 195.62 L420.65 195.61 L420.90 195.52 L421.15 195.52 L421.40 195.52 L421.65 195.51 L421.90 195.51 L422.15 195.51 L422.40 195.51 L422.65 195.51 L422.90 195.55 L423.15 195.55 L423.40 195.55 L423.65 195.54 L423.90 195.54 L424.15 195.53 L424.40 195.53 L424.65 195.52 L424.90 195.54 L425.15 195.53 L425.40 195.52 L425.65 195.51 L425.90 195.49 L426.15 195.46 L426.40 195.43 L426.65 195.38 L426.90 195.39 L427.15 195.29 L427.40 195.16 L427.65 194.99 L427.90 194.77 L428.15 194.49 L428.40 194.17 L428.65 193.80 L428.90 193.34 L429.15 192.92 L429.40 192.50 L429.65 192.11 L429.90 191.80 L430.15 191.59 L430.40 191.52 L430.65 191.59 L430.90 191.84 L431.15 192.15 L431.40 192.54 L431.65 192.96 L431.90 193.39 L432.15 193.79 L432.40 194.17 L432.65 194.49 L432.90 194.70 L433.15 194.92 L433.40 195.09 L433.65 195.22 L433.90 195.32 L434.15 195.39 L434.40 195.44 L434.65 195.48 L434.90 195.47 L435.15 195.49 L435.40 195.50 L435.65 195.51 L435.90 195.52 L436.15 195.53 L436.40 195.54 L436.65 195.54 L436.90 195.55 L437.15 195.56 L437.40 195.56 L437.65 195.56 L437.90 195.57 L438.15 195.57 L438.40 195.57 L438.65 195.58 L438.90 195.69 L439.15 195.69 L439.40 195.70 L439.65 195.70 L439.90 195.70 L440.15 195.70 L440.40 195.70 L440.65 195.70 L440.90 195.66 L441.15 195.66 L441.40 195.66 L441.65 195.66 L441.90 195.66 L442.15 195.66 L442.40 195.66 L442.65 195.65 L442.90 195.59 L443.15 195.58 L443.40 195.56 L443.65 195.54 L443.90 195.51 L444.15 195.46 L444.40 195.41 L444.65 195.33 L444.90 195.20 L445.15 195.09 L445.40 194.98 L445.65 194.86 L445.90 194.75 L446.15 194.66 L446.40 194.59 L446.65 194.56 L446.70 194.64 L446.90 194.65 L447.15 194.71 L447.40 194.79 L447.65 194.90 L447.90 195.02 L448.15 195.13 L448.40 195.24 L448.65 195.37 L448.90 195.45 L449.15 195.52 L449.40 195.57 L449.65 195.61 L449.90 195.63 L450.15 195.65 L450.40 195.67 L450.65 195.63 L450.90 195.64 L451.15 195.64 L451.40 195.65 L451.65 195.65 L451.90 195.65 L452.15 195.66 L452.40 195.66 L452.65 195.63 L452.90 195.63 L453.15 195.64 L453.40 195.64 L453.65 195.64 L453.90 195.64 L454.15 195.64 L454.40 195.64 L454.65 195.71 L454.90 195.71 L455.15 195.71 L455.40 195.71 L455.65 195.71 L455.90 195.71 L456.15 195.71 L456.40 195.71 L456.65 195.76 L456.90 195.76 L457.15 195.76 L457.40 195.76 L457.65 195.76 L457.90 195.76 L458.15 195.76 L458.40 195.76 L458.65 195.65 L458.90 195.65 L459.15 195.65 L459.40 195.65 L459.65 195.65 L459.90 195.65 L460.15 195.65 L460.40 195.66 L460.65 195.63 L460.90 195.63 L461.15 195.63 L461.40 195.63 L461.65 195.63 L461.90 195.63 L462.15 195.63 L462.40 195.63 L462.65 195.68 L462.90 195.68 L463.15 195.68 L463.40 195.68 L463.65 195.68 L463.90 195.68 L464.15 195.68 L464.40 195.68 L464.65 195.70 L464.90 195.70 L465.15 195.70 L465.40 195.70 L465.65 195.70 L465.90 195.70 L466.15 195.70 L466.40 195.70 L466.65 195.74 L466.90 195.74 L467.15 195.74 L467.40 195.74 L467.65 195.74 L467.90 195.74 L468.15 195.75 L468.40 195.75 L468.65 195.67 L468.90 195.67 L469.15 195.67 L469.40 195.67 L469.65 195.67 L469.90 195.67 L470.15 195.67 L470.40 195.67 L470.65 195.77 L470.90 195.77 L471.15 195.77 L471.40 195.77 L471.65 195.77 L471.90 195.77 L472.15 195.77 L472.40 195.77 L472.65 195.76 L472.90 195.76 L473.15 195.76 L473.40 195.76 L473.65 195.77 L473.90 195.77 L474.15 195.77 L474.40 195.77 L474.65 195.73 L474.90 195.73 L475.15 195.73 L475.40 195.73 L475.65 195.73 L475.90 195.73 L476.15 195.73 L476.40 195.73 L476.65 195.69 L476.90 195.69 L477.15 195.69 L477.40 195.69 L477.65 195.69 L477.90 195.69 L478.15 195.69 L478.40 195.69 L478.65 195.81 L478.90 195.81 L479.15 195.81 L479.40 195.81 L479.65 195.81 L479.90 195.81 L480.15 195.81 L480.40 195.81 L480.65 195.71 L480.90 195.71 L481.15 195.71 L481.40 195.71 L481.65 195.71 L481.90 195.71 L482.15 195.71 L482.40 195.71 L482.65 195.79 L482.90 195.80 L483.15 195.80 L483.40 195.80 L483.65 195.80 L483.90 195.80 L484.15 195.80 L484.40 195.80 L484.65 195.70 L484.90 195.70 L485.15 195.70 L485.40 195.70 L485.65 195.71 L485.90 195.71 L486.15 195.71 L486.40 195.71 L486.65 195.71 L486.90 195.71 L487.15 195.71 L487.40 195.71 L487.65 195.71 L487.90 195.71 L488.15 195.71 L488.40 195.71 L488.65 195.79 L488.90 195.79 L489.15 195.79 L489.40 195.79 L489.65 195.80 L489.90 195.80 L490.15 195.80 L490.40 195.80 L490.65 195.72 L490.90 195.72 L491.15 195.72 L491.40 195.72 L491.65 195.72 L491.90 195.72 L492.15 195.72 L492.40 195.72 L492.65 195.83 L492.90 195.83 L493.15 195.83 L493.40 195.83 L493.65 195.83 L493.90 195.83 L494.15 195.83 L494.40 195.83 L494.65 195.76 L494.90 195.76 L495.15 195.76 L495.40 195.76 L495.65 195.76 L495.90 195.76 L496.15 195.76 L496.40 195.76 L496.65 195.71 L496.90 195.71 L497.15 195.70 L497.40 195.70 L497.65 195.70 L497.90 195.70 L498.15 195.70 L498.40 195.70 L498.65 195.71 L498.90 195.71 L499.15 195.71 L499.40 195.70 L499.65 195.70 L499.90 195.70 L500.15 195.70 L500.40 195.70 L500.65 195.73 L500.90 195.73 L501.15 195.72 L501.40 195.72 L501.65 195.72 L501.90 195.72 L502.15 195.71 L502.40 195.71 L502.65 195.74 L502.90 195.74 L503.15 195.73 L503.40 195.73 L503.65 195.72 L503.90 195.71 L504.15 195.70 L504.40 195.69 L504.65 195.72 L504.90 195.70 L505.15 195.67 L505.40 195.62 L505.65 195.56 L505.90 195.48 L506.15 195.36 L506.40 195.20 L506.65 194.87 L506.90 194.61 L507.15 194.28 L507.40 193.90 L507.65 193.46 L507.90 192.97 L508.15 192.46 L508.40 191.96 L508.65 191.54 L508.90 191.16 L509.15 190.92 L509.40 190.83 L509.65 190.92 L509.90 191.17 L510.15 191.54 L510.40 192.00 L510.65 192.48 L510.90 192.99 L511.15 193.47 L511.40 193.92 L511.65 194.30 L511.90 194.63 L512.15 194.89 L512.40 195.10 L512.65 195.38 L512.90 195.49 L513.15 195.58 L513.40 195.64 L513.65 195.69 L513.90 195.72 L514.15 195.74 L514.40 195.76 L514.65 195.64 L514.90 195.65 L515.15 195.66 L515.40 195.67 L515.65 195.68 L515.90 195.68 L516.15 195.69 L516.40 195.69 L516.65 195.68 L516.90 195.69 L517.15 195.69 L517.40 195.69 L517.65 195.70 L517.90 195.70 L518.15 195.70 L518.40 195.71 L518.65 195.71 L518.90 195.71 L519.15 195.72 L519.40 195.72 L519.65 195.72 L519.90 195.72 L520.15 195.72 L520.40 195.73 L520.65 195.78 L520.90 195.78 L521.15 195.78 L521.40 195.78 L521.65 195.79 L521.90 195.79 L522.15 195.79 L522.40 195.79 L522.65 195.87 L522.90 195.87 L523.15 195.87 L523.40 195.88 L523.65 195.88 L523.90 195.88 L524.15 195.88 L524.40 195.88 L524.65 195.88 L524.90 195.88 L525.15 195.88 L525.40 195.88 L525.65 195.88 L525.90 195.88 L526.15 195.88 L526.40 195.88 L526.65 195.86 L526.90 195.86 L527.15 195.86 L527.40 195.86 L527.65 195.86 L527.90 195.86 L528.15 195.87 L528.40 195.87 L528.65 195.91 L528.90 195.91 L529.15 195.91 L529.40 195.91 L529.65 195.91 L529.90 195.91 L530.15 195.91 L530.40 195.91 L530.65 195.90 L530.90 195.91 L531.15 195.91 L531.40 195.91 L531.65 195.91 L531.90 195.91 L532.15 195.91 L532.40 195.91 L532.65 195.81 L532.90 195.81 L533.15 195.81 L533.40 195.82 L533.65 195.82 L533.90 195.82" fill="none" stroke="#3e3eff" stroke-width="1.1" stroke-linejoin="round"/>
<rect x="46.15" y="37.10" width="487.75" height="360.45" fill="none" stroke="#000" stroke-width="1.62" stroke-linejoin="round"/>
<path d="M45.90 37.10 v7.20 M45.90 397.55 v7.20 M86.57 37.10 v3.80 M86.57 397.55 v3.80 M127.23 37.10 v7.20 M127.23 397.55 v7.20 M167.90 37.10 v3.80 M167.90 397.55 v3.80 M208.57 37.10 v7.20 M208.57 397.55 v7.20 M249.23 37.10 v3.80 M249.23 397.55 v3.80 M289.90 37.10 v7.20 M289.90 397.55 v7.20 M330.57 37.10 v3.80 M330.57 397.55 v3.80 M371.23 37.10 v7.20 M371.23 397.55 v7.20 M411.90 37.10 v3.80 M411.90 397.55 v3.80 M452.57 37.10 v7.20 M452.57 397.55 v7.20 M493.23 37.10 v3.80 M493.23 397.55 v3.80 M533.90 37.10 v7.20 M533.90 397.55 v7.20" stroke="#000" stroke-width="1.5" fill="none"/>
<text class="tk" transform="translate(45.80 25.45) rotate(0.03) scale(1 1.060)">20</text>
<text class="tk" transform="translate(45.80 421.30) rotate(0.03) scale(1 1.060)">20</text>
<text class="tk" transform="translate(127.13 25.45) rotate(0.03) scale(1 1.060)">30</text>
<text class="tk" transform="translate(127.13 421.30) rotate(0.03) scale(1 1.060)">30</text>
<text class="tk" transform="translate(208.47 25.45) rotate(0.03) scale(1 1.060)">40</text>
<text class="tk" transform="translate(208.47 421.30) rotate(0.03) scale(1 1.060)">40</text>
<text class="tk" transform="translate(289.80 25.45) rotate(0.03) scale(1 1.060)">50</text>
<text class="tk" transform="translate(289.80 421.30) rotate(0.03) scale(1 1.060)">50</text>
<text class="tk" transform="translate(371.13 25.45) rotate(0.03) scale(1 1.060)">60</text>
<text class="tk" transform="translate(371.13 421.30) rotate(0.03) scale(1 1.060)">60</text>
<text class="tk" transform="translate(452.47 25.45) rotate(0.03) scale(1 1.060)">70</text>
<text class="tk" transform="translate(452.47 421.30) rotate(0.03) scale(1 1.060)">70</text>
<text class="tk" transform="translate(533.80 25.45) rotate(0.03) scale(1 1.060)">80</text>
<text class="tk" transform="translate(533.80 421.30) rotate(0.03) scale(1 1.060)">80</text>
<text class="tt" style="font-size:14.7px;text-anchor:start" transform="translate(235.3 446.5) rotate(0.03) scale(1 1.055)">2Theta</text>
<text class="tt" style="font-size:15.1px;text-anchor:start" transform="translate(285.25 446.5) rotate(0.03) scale(1 1.03)">(degree)</text>
<text class="tt" style="font-size:14.72px;text-anchor:start" transform="translate(23.1 266.1) rotate(-89.97) scale(1 1.06)">Intensity</text>
<text class="tt" style="font-size:14.7px;text-anchor:start" transform="translate(23.1 206.2) rotate(-89.97) scale(1 1.03)">(a.u.)</text>
<text class="pk" transform="translate(92.05 60.65) rotate(0.03) scale(1 1.030)">(111)</text>
<text class="pk" transform="translate(122.80 184.05) rotate(0.03) scale(1 1.030)">(200)</text>
<text class="pk" transform="translate(226.15 164.75) rotate(0.03) scale(1 1.030)">(220)</text>
<text class="pk" transform="translate(288.90 172.45) rotate(0.03) scale(1 1.030)">(311)</text>
<text class="pk" transform="translate(314.30 187.25) rotate(0.03) scale(1 1.030)">(222)</text>
<text class="pk" transform="translate(381.05 187.95) rotate(0.03) scale(1 1.030)">(400)</text>
<text class="pk" transform="translate(428.80 185.55) rotate(0.03) scale(1 1.030)">(331)</text>
<text class="pk" transform="translate(459.55 187.40) rotate(0.03) scale(1 1.030)">(420)</text>
<text class="pk" transform="translate(508.40 184.35) rotate(0.03) scale(1 1.030)">(422)</text>
<text class="pk" transform="translate(105.20 214.90) rotate(0.03) scale(1 1.030)">(111)</text>
<text class="pk" transform="translate(123.65 301.90) rotate(0.03) scale(1 1.030)">(200)</text>
<text class="pk" transform="translate(226.20 272.35) rotate(0.03) scale(1 1.030)">(220)</text>
<text class="pk" transform="translate(290.10 289.25) rotate(0.03) scale(1 1.030)">(311)</text>
<text class="pk" transform="translate(318.90 303.95) rotate(0.03) scale(1 1.030)">(222)</text>
<text class="pk" transform="translate(381.75 302.00) rotate(0.03) scale(1 1.030)">(400)</text>
<text class="pk" transform="translate(426.70 302.35) rotate(0.03) scale(1 1.030)">(331)</text>
<text class="pk" transform="translate(460.00 302.35) rotate(0.03) scale(1 1.030)">(420)</text>
<text class="pk" transform="translate(513.85 301.40) rotate(0.03) scale(1 1.030)">(422)</text>
<text class="pk" transform="translate(105.70 332.10) rotate(0.03) scale(1 1.030)">(111)</text>
<text class="pk" transform="translate(125.05 374.15) rotate(0.03) scale(1 1.030)">(200)</text>
<text class="pk" transform="translate(228.10 348.35) rotate(0.03) scale(1 1.030)">(220)</text>
<text class="pk" transform="translate(292.00 361.95) rotate(0.03) scale(1 1.030)">(311)</text>
<text class="pk" transform="translate(319.60 377.25) rotate(0.03) scale(1 1.030)">(222)</text>
<text class="pk" transform="translate(380.55 375.75) rotate(0.03) scale(1 1.030)">(400)</text>
<text class="pk" transform="translate(431.05 373.55) rotate(0.03) scale(1 1.030)">(331)</text>
<text class="pk" transform="translate(460.50 378.45) rotate(0.03) scale(1 1.030)">(420)</text>
<text class="pk" transform="translate(509.80 377.40) rotate(0.03) scale(1 1.030)">(422)</text>
<rect x="406.7" y="53.65" width="113.25" height="57.55" fill="#fff" stroke="#626262" stroke-width="1.15"/>
<path d="M408.0 63.4 H442.4" stroke="#404040" stroke-width="1.2"/>
<text class="lg" transform="translate(446.40 68.90) rotate(0.03) scale(1 1.040)">CuI</text>
<path d="M408.0 82.2 H442.4" stroke="#ff5050" stroke-width="1.2"/>
<text class="lg" transform="translate(446.40 87.20) rotate(0.03) scale(1 1.040)">2.5GA-CuI</text>
<path d="M408.0 100.7 H442.4" stroke="#5050ff" stroke-width="1.2"/>
<text class="lg" transform="translate(446.40 105.70) rotate(0.03) scale(1 1.040)">5.0GA-CuI</text>
<text class="pn" transform="translate(516.25 136.00) rotate(0.03) scale(1 1.000)">(a)</text>
<text class="pn" transform="translate(514.70 221.35) rotate(0.03) scale(1 1.000)">(b)</text>
<text class="pn" transform="translate(515.20 342.30) rotate(0.03) scale(1 1.000)">(c)</text>
</svg>
</body></html>
